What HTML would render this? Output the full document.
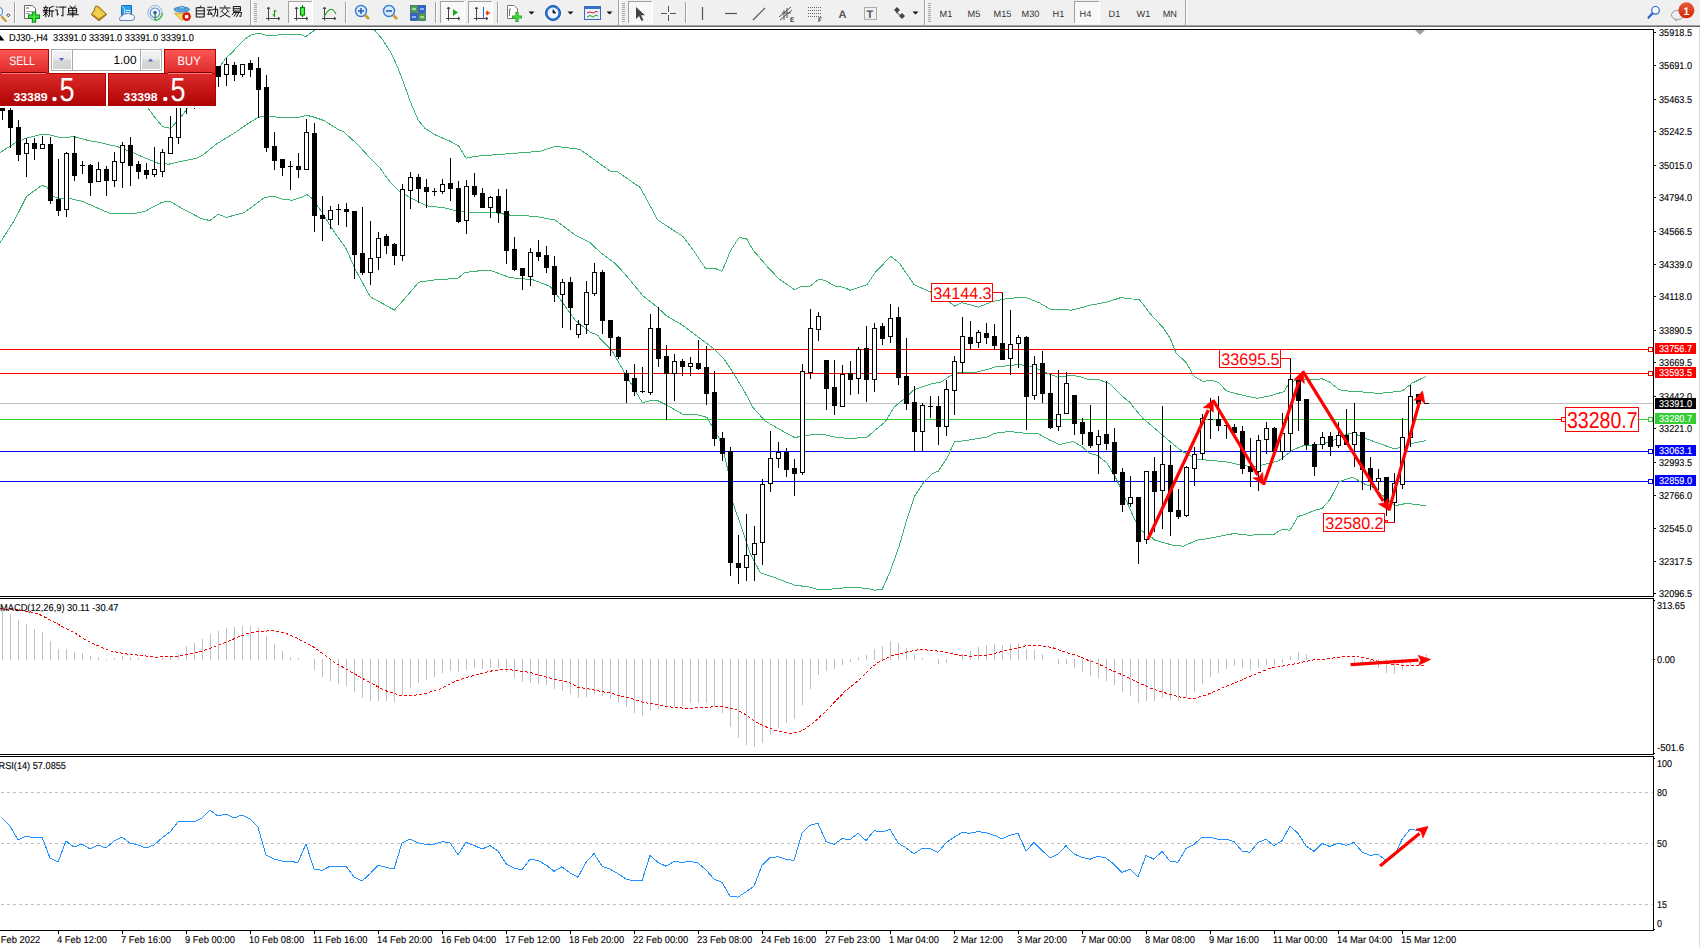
<!DOCTYPE html><html><head><meta charset="utf-8"><title>DJ30 H4</title><style>html,body{margin:0;padding:0;background:#fff;overflow:hidden;width:1700px;height:947px}svg{display:block}text{font-family:'Liberation Sans',sans-serif}</style></head><body>
<svg width="1700" height="947" viewBox="0 0 1700 947" style="font-family:'Liberation Sans',sans-serif" text-rendering="geometricPrecision">
<defs><linearGradient id="gTop" x1="0" y1="0" x2="0" y2="1"><stop offset="0" stop-color="#fb5656"/><stop offset="1" stop-color="#e02a2a"/></linearGradient><linearGradient id="gBot" x1="0" y1="0" x2="0" y2="1"><stop offset="0" stop-color="#dc2a2a"/><stop offset="1" stop-color="#b00404"/></linearGradient><linearGradient id="gBtn" x1="0" y1="0" x2="0" y2="1"><stop offset="0" stop-color="#f2f2f2"/><stop offset="0.45" stop-color="#ececec"/><stop offset="0.5" stop-color="#d9d9d9"/><stop offset="1" stop-color="#d2d2d2"/></linearGradient><linearGradient id="gBadge" x1="0" y1="0" x2="0" y2="1"><stop offset="0" stop-color="#ea5a3a"/><stop offset="1" stop-color="#d42400"/></linearGradient><pattern id="chk" width="2" height="2" patternUnits="userSpaceOnUse"><rect width="2" height="2" fill="#f4f4f4"/><rect width="1" height="1" fill="#fdfdfd"/><rect x="1" y="1" width="1" height="1" fill="#fdfdfd"/></pattern></defs>
<rect x="0" y="0" width="1700" height="25" fill="#f0f0f0"/>
<rect x="0" y="25" width="1700" height="1" fill="#a2a2a2"/>
<rect x="0" y="26" width="1700" height="1" fill="#6a6a6a"/>
<g shape-rendering="crispEdges">
<rect x="14" y="2" width="1" height="21" fill="#a0a0a0"/>
<rect x="15" y="2" width="1" height="21" fill="#ffffff"/>
<rect x="345" y="2" width="1" height="21" fill="#a0a0a0"/>
<rect x="346" y="2" width="1" height="21" fill="#ffffff"/>
<rect x="435" y="2" width="1" height="21" fill="#a0a0a0"/>
<rect x="436" y="2" width="1" height="21" fill="#ffffff"/>
<rect x="497" y="2" width="1" height="21" fill="#a0a0a0"/>
<rect x="498" y="2" width="1" height="21" fill="#ffffff"/>
<rect x="685" y="2" width="1" height="21" fill="#a0a0a0"/>
<rect x="686" y="2" width="1" height="21" fill="#ffffff"/>
<rect x="250" y="0" width="1" height="25" fill="#a0a0a0"/>
<rect x="251" y="0" width="1" height="25" fill="#ffffff"/>
<rect x="618" y="0" width="1" height="25" fill="#a0a0a0"/>
<rect x="619" y="0" width="1" height="25" fill="#ffffff"/>
<rect x="924" y="0" width="1" height="25" fill="#a0a0a0"/>
<rect x="925" y="0" width="1" height="25" fill="#ffffff"/>
<rect x="1185" y="0" width="1" height="25" fill="#a0a0a0"/>
<rect x="1186" y="0" width="1" height="25" fill="#ffffff"/>
<rect x="254" y="3" width="3" height="1" fill="#a8a8a8"/>
<rect x="254" y="5" width="3" height="1" fill="#a8a8a8"/>
<rect x="254" y="7" width="3" height="1" fill="#a8a8a8"/>
<rect x="254" y="9" width="3" height="1" fill="#a8a8a8"/>
<rect x="254" y="11" width="3" height="1" fill="#a8a8a8"/>
<rect x="254" y="13" width="3" height="1" fill="#a8a8a8"/>
<rect x="254" y="15" width="3" height="1" fill="#a8a8a8"/>
<rect x="254" y="17" width="3" height="1" fill="#a8a8a8"/>
<rect x="254" y="19" width="3" height="1" fill="#a8a8a8"/>
<rect x="254" y="21" width="3" height="1" fill="#a8a8a8"/>
<rect x="622" y="3" width="3" height="1" fill="#a8a8a8"/>
<rect x="622" y="5" width="3" height="1" fill="#a8a8a8"/>
<rect x="622" y="7" width="3" height="1" fill="#a8a8a8"/>
<rect x="622" y="9" width="3" height="1" fill="#a8a8a8"/>
<rect x="622" y="11" width="3" height="1" fill="#a8a8a8"/>
<rect x="622" y="13" width="3" height="1" fill="#a8a8a8"/>
<rect x="622" y="15" width="3" height="1" fill="#a8a8a8"/>
<rect x="622" y="17" width="3" height="1" fill="#a8a8a8"/>
<rect x="622" y="19" width="3" height="1" fill="#a8a8a8"/>
<rect x="622" y="21" width="3" height="1" fill="#a8a8a8"/>
<rect x="928" y="3" width="3" height="1" fill="#a8a8a8"/>
<rect x="928" y="5" width="3" height="1" fill="#a8a8a8"/>
<rect x="928" y="7" width="3" height="1" fill="#a8a8a8"/>
<rect x="928" y="9" width="3" height="1" fill="#a8a8a8"/>
<rect x="928" y="11" width="3" height="1" fill="#a8a8a8"/>
<rect x="928" y="13" width="3" height="1" fill="#a8a8a8"/>
<rect x="928" y="15" width="3" height="1" fill="#a8a8a8"/>
<rect x="928" y="17" width="3" height="1" fill="#a8a8a8"/>
<rect x="928" y="19" width="3" height="1" fill="#a8a8a8"/>
<rect x="928" y="21" width="3" height="1" fill="#a8a8a8"/>
<rect x="288" y="1" width="25" height="23" fill="url(#chk)"/>
<rect x="288" y="1" width="24" height="1" fill="#a0a0a0"/>
<rect x="288" y="1" width="1" height="22" fill="#a0a0a0"/>
<rect x="288" y="23" width="25" height="1" fill="#ffffff"/>
<rect x="312" y="1" width="1" height="23" fill="#ffffff"/>
<rect x="440" y="1" width="25" height="23" fill="url(#chk)"/>
<rect x="440" y="1" width="24" height="1" fill="#a0a0a0"/>
<rect x="440" y="1" width="1" height="22" fill="#a0a0a0"/>
<rect x="440" y="23" width="25" height="1" fill="#ffffff"/>
<rect x="464" y="1" width="1" height="23" fill="#ffffff"/>
<rect x="468" y="1" width="25" height="23" fill="url(#chk)"/>
<rect x="468" y="1" width="24" height="1" fill="#a0a0a0"/>
<rect x="468" y="1" width="1" height="22" fill="#a0a0a0"/>
<rect x="468" y="23" width="25" height="1" fill="#ffffff"/>
<rect x="492" y="1" width="1" height="23" fill="#ffffff"/>
<rect x="628" y="1" width="25" height="23" fill="url(#chk)"/>
<rect x="628" y="1" width="24" height="1" fill="#a0a0a0"/>
<rect x="628" y="1" width="1" height="22" fill="#a0a0a0"/>
<rect x="628" y="23" width="25" height="1" fill="#ffffff"/>
<rect x="652" y="1" width="1" height="23" fill="#ffffff"/>
<rect x="1074" y="1" width="26" height="23" fill="url(#chk)"/>
<rect x="1074" y="1" width="25" height="1" fill="#a0a0a0"/>
<rect x="1074" y="1" width="1" height="22" fill="#a0a0a0"/>
<rect x="1074" y="23" width="26" height="1" fill="#ffffff"/>
<rect x="1099" y="1" width="1" height="23" fill="#ffffff"/>
</g>
<circle cx="-2" cy="11.5" r="4.6" fill="#eef6ff" stroke="#6a9ad8" stroke-width="1.3"/>
<path d="M2,17L5.8,21" stroke="#c8a030" stroke-width="2.4" stroke-linecap="round"/>
<path d="M8.3,13.8L9.8,15.3L8.3,16.8L6.8,15.3Z" fill="none" stroke="#222" stroke-width="0.9"/>
<path d="M24.5,5.5H32.5L35.5,8.5V18.5H24.5Z" fill="#fff" stroke="#666"/>
<path d="M26,8H29" stroke="#999" stroke-width="1.6"/><path d="M26,11.5H32M26,13.5H30" stroke="#999" stroke-width="0.9"/>
<path d="M34,11.6V22.7M28,16.7H40" stroke="#108a10" stroke-width="4.4"/>
<path d="M34,12.6V21.7M29,16.7H39" stroke="#3ee63e" stroke-width="2.2"/>
<path transform="translate(43,6) scale(1.08)" d="M2.6,0V1.3M0.6,1.6H4.6M1.5,2.5L1.9,3.6M3.7,2.5L3.3,3.6M0.2,4.1H5M0.6,5.6H4.6M2.6,4.1V10M2.6,6.5L0.4,9M2.6,6.5L4.4,8.4M9.4,0.4L6.1,1.5V6.2Q6.1,8.6,5.3,9.8M6.1,4.6H10M8.3,4.6V10" fill="none" stroke="#000" stroke-width="0.88" stroke-linecap="square"/>
<path transform="translate(55.2,6) scale(1.08)" d="M0.9,0.4L2,1.6M0.3,3.6H1.9V8.6L3,7.6M3.6,1H10M7.2,1V9.4L6,8.9" fill="none" stroke="#000" stroke-width="0.88" stroke-linecap="square"/>
<path transform="translate(67.4,6) scale(1.08)" d="M2.8,0L3.9,1.5M7.2,0L6.1,1.5M1.5,2H8.5V6.6H1.5ZM1.5,4.3H8.5M5,2V10M0,8.1H10" fill="none" stroke="#000" stroke-width="0.88" stroke-linecap="square"/>
<path d="M95.5,6.2Q97.5,5.8,99,7L106.7,14.4L99,20.8L91.2,14.6Q94.5,11,95.5,6.2Z" fill="#e4bc30" stroke="#8a5a10" stroke-width="0.9"/>
<path d="M92.5,14.8L99,19.5L105.8,14.2" fill="none" stroke="#b07818" stroke-width="1.2"/>
<path d="M96,7.5L104.5,14.2L99,18.5L93,14Q95.5,11,96,7.5Z" fill="#f3d860" opacity="0.7"/>
<path d="M121.5,5.5H131.5V15.5H121.5Z" fill="#28a0f0" stroke="#1a70c0"/>
<path d="M121.5,5.5L124.5,8.5V15.5" fill="none" stroke="#a8dcff"/>
<path d="M125.5,10.5H130.5M125.5,12.5H130.5" stroke="#e8f6ff"/>
<path d="M120,20.5Q118.5,17,122,16Q123,13.2,126.5,13.8Q128.5,12,131,14.5Q134.8,14.5,134.5,18Q134.5,20.5,131,20.5Z" fill="#f2f5fb" stroke="#6a80b0"/>
<circle cx="155" cy="12.8" r="7.3" fill="none" stroke="#8ab0e0" stroke-width="1"/>
<circle cx="155" cy="12.8" r="4.8" fill="none" stroke="#5a88d8" stroke-width="1.1"/>
<circle cx="155" cy="12.8" r="1.8" fill="#2050c0"/>
<path d="M155.2,13V20.6" stroke="#20a020" stroke-width="1.3"/>
<path d="M155.5,20.2A7.3,7.3,0,0,0,162.3,13" fill="none" stroke="#58b858" stroke-width="1.6"/>
<path d="M174.5,13.3H189.6L181.8,20.5Z" fill="#f2d860" stroke="#c09820" stroke-width="0.8"/>
<ellipse cx="181.8" cy="9.5" rx="7.8" ry="2.6" fill="#5aa8e0" stroke="#2a70b8" stroke-width="0.8"/>
<path d="M178.3,9Q181.8,3.2,185.3,9Z" fill="#8ac8f4" stroke="#2a70b8" stroke-width="0.6"/>
<circle cx="186.6" cy="16.6" r="4.3" fill="#d81800"/>
<rect x="184.9" y="14.9" width="3.4" height="3.4" fill="#fff"/>
<path transform="translate(195,6) scale(1.1)" d="M5.2,0L4.2,1.6M1.6,1.6H8.4V10H1.6ZM1.6,4.4H8.4M1.6,7.2H8.4" fill="none" stroke="#000" stroke-width="0.86" stroke-linecap="square"/>
<path transform="translate(207.2,6) scale(1.1)" d="M0.6,1.1H4.2M0.1,3.6H4.6M2.2,3.6L0.5,7.7L4.1,7.1M3.1,5.6L4.5,8.2M5.5,3H9.5V9.4L8.4,9M7.6,0.4V4.5Q7.4,7.8,5.4,9.8" fill="none" stroke="#000" stroke-width="0.86" stroke-linecap="square"/>
<path transform="translate(219.4,6) scale(1.1)" d="M5,0V1M0.4,1.8H9.6M3.6,3L1.4,5.1M6.4,3L8.6,5.1M2.6,5.2Q5,8.8,9.4,10M7.4,5.2Q5,8.8,0.6,10" fill="none" stroke="#000" stroke-width="0.86" stroke-linecap="square"/>
<path transform="translate(231.6,6) scale(1.1)" d="M2,0.5H8V4.6H2ZM2,2.5H8M3,4.7L0.5,8M1.8,5.8H9L8.4,9.6L7.3,9.2M4.6,5.8L2.4,9.2M6.6,5.8L4.5,9.8" fill="none" stroke="#000" stroke-width="0.86" stroke-linecap="square"/>
<path d="M268.5,7V20.5M266,18.5H280" stroke="#444" stroke-width="1"/>
<path d="M267,9L268.5,7L270,9M278,17L280,18.5L278,20" fill="none" stroke="#444"/>
<path d="M274.5,10V17M272.5,15H274.5M274.5,11H276.5" stroke="#1a9a1a" stroke-width="1.2"/>
<path d="M296.5,7V20.5M294,18.5H308" stroke="#444" stroke-width="1"/>
<path d="M295,9L296.5,7L298,9M306,17L308,18.5L306,20" fill="none" stroke="#444"/>
<path d="M302.5,5V17" stroke="#008a00" stroke-width="1.2"/>
<rect x="300.5" y="7.5" width="4" height="7.5" fill="#50ee50" stroke="#008a00" stroke-width="1.1"/>
<path d="M324.5,7V20.5M322,18.5H336" stroke="#444" stroke-width="1"/>
<path d="M323,9L324.5,7L326,9M334,17L336,18.5L334,20" fill="none" stroke="#444"/>
<path d="M324,17Q327,11,330,9.5T336,14" fill="none" stroke="#20a020" stroke-width="1.1"/>
<circle cx="361" cy="11" r="5.5" fill="#d8ecff" stroke="#3a7ad0" stroke-width="1.4"/>
<path d="M365,15L369,19" stroke="#c8a030" stroke-width="2.6"/>
<path d="M358,11H364" stroke="#2a60c0" stroke-width="1.6"/>
<path d="M361,8V14" stroke="#2a60c0" stroke-width="1.6"/>
<circle cx="389" cy="11" r="5.5" fill="#d8ecff" stroke="#3a7ad0" stroke-width="1.4"/>
<path d="M393,15L397,19" stroke="#c8a030" stroke-width="2.6"/>
<path d="M386,11H392" stroke="#2a60c0" stroke-width="1.6"/>
<rect x="410.5" y="5.5" width="7" height="7" fill="#4aa83a" stroke="#1a3a80" stroke-width="0.6"/>
<path d="M412,9H416" stroke="#fff"/>
<rect x="418.5" y="5.5" width="7" height="7" fill="#2a66d0" stroke="#1a3a80" stroke-width="0.6"/>
<path d="M420,9H424" stroke="#fff"/>
<rect x="410.5" y="13.5" width="7" height="7" fill="#2a66d0" stroke="#1a3a80" stroke-width="0.6"/>
<path d="M412,17H416" stroke="#fff"/>
<rect x="418.5" y="13.5" width="7" height="7" fill="#4aa83a" stroke="#1a3a80" stroke-width="0.6"/>
<path d="M420,17H424" stroke="#fff"/>
<path d="M448.5,7V20.5M446,18.5H460" stroke="#444" stroke-width="1"/>
<path d="M447,9L448.5,7L450,9M458,17L460,18.5L458,20" fill="none" stroke="#444"/>
<path d="M453,9V16L458,12.5Z" fill="#22aa22"/>
<path d="M476.5,7V20.5M474,18.5H488" stroke="#444" stroke-width="1"/>
<path d="M475,9L476.5,7L478,9M486,17L488,18.5L486,20" fill="none" stroke="#444"/>
<path d="M483.5,7V18" stroke="#2a6ad0"/><path d="M486,13H490M486,13L488,11M486,13L488,15" stroke="#e04010" stroke-width="1.3"/>
<path d="M507.5,5.5H514L517.5,9V18.5H507.5Z" fill="#fff" stroke="#777"/>
<path d="M509.5,9V16M509.5,9H511" stroke="#777"/>
<path d="M517,12V22M512,17H522" stroke="#22aa22" stroke-width="3.2"/>
<path d="M517,13V21M513,17H521" stroke="#44dd44" stroke-width="1.4"/>
<path d="M528.5,11.5H534.5L531.5,14.5Z" fill="#111"/>
<path d="M567.5,11.5H573.5L570.5,14.5Z" fill="#111"/>
<path d="M606.5,11.5H612.5L609.5,14.5Z" fill="#111"/>
<path d="M912.5,11.5H918.5L915.5,14.5Z" fill="#111"/>
<circle cx="553" cy="13" r="7.5" fill="#2a7ad8" stroke="#1a50a0"/>
<circle cx="553" cy="13" r="5.4" fill="#f4f8ff"/>
<path d="M553,9.5V13H556" stroke="#333" stroke-width="1"/>
<rect x="584.5" y="6.5" width="16" height="13" fill="#e8f0fc" stroke="#3a6ac0"/>
<rect x="585" y="7" width="15" height="2" fill="#3a70c8"/>
<path d="M587,13L590,12L593,13L596,11.5L598,12" fill="none" stroke="#d02020"/>
<path d="M587,17L590,15.5L593,17L596,15L598,16" fill="none" stroke="#20a020"/>
<path d="M636,7L636,19L639,16L641.5,21L643.5,20L641,15.3L645,15.3Z" fill="#444"/>
<path d="M668.5,6V12M668.5,15V21M661,13.5H667M670,13.5H676" stroke="#555"/>
<path d="M702.5,7V20" stroke="#555" stroke-width="1.2"/>
<path d="M725,13.5H737" stroke="#555" stroke-width="1.2"/>
<path d="M753,20L765,8" stroke="#555" stroke-width="1.2"/>
<path d="M779,17L791,7M780,20L792,10M782,13H791M784,10V20M787,8V18" stroke="#555" stroke-width="1"/>
<text x="790" y="22" font-size="6.5" fill="#333" font-weight="bold">E</text>
<path d="M808,7.5H821" stroke="#666" stroke-dasharray="1,1"/>
<path d="M808,10.5H821" stroke="#666" stroke-dasharray="1,1"/>
<path d="M808,13.5H821" stroke="#666" stroke-dasharray="1,1"/>
<path d="M808,16.5H821" stroke="#666" stroke-dasharray="1,1"/>
<text x="818" y="22" font-size="6.5" fill="#333" font-weight="bold">F</text>
<text x="838.5" y="17.5" font-size="11" fill="#555" font-weight="bold">A</text>
<rect x="864.5" y="7.5" width="12" height="12" fill="none" stroke="#666" stroke-dasharray="1,1"/>
<text x="866.5" y="17.5" font-size="11" fill="#555" font-weight="bold">T</text>
<path d="M894,10L897,7L900,10L897,13Z" fill="#444"/><path d="M899,16L902,13L905,16L902,19Z" fill="#444"/><path d="M896,12L901,16" stroke="#444"/>
<text x="939.5" y="17" font-size="9.2" fill="#333">M1</text>
<text x="967.5" y="17" font-size="9.2" fill="#333">M5</text>
<text x="993.5" y="17" font-size="9.2" fill="#333">M15</text>
<text x="1021.5" y="17" font-size="9.2" fill="#333">M30</text>
<text x="1052.5" y="17" font-size="9.2" fill="#333">H1</text>
<text x="1079.5" y="17" font-size="9.2" fill="#333">H4</text>
<text x="1108.5" y="17" font-size="9.2" fill="#333">D1</text>
<text x="1136.5" y="17" font-size="9.2" fill="#333">W1</text>
<text x="1162.7" y="17" font-size="9.2" fill="#333">MN</text>
<circle cx="1655.5" cy="10.3" r="3.8" fill="#fff" stroke="#2a62d0" stroke-width="1.2"/>
<path d="M1652.6,13.3L1648.6,17.6" stroke="#2a62d0" stroke-width="2.2" stroke-linecap="round"/>
<ellipse cx="1677.5" cy="15" rx="6" ry="4.6" fill="#eceef4" stroke="#9a9a9a"/>
<path d="M1675,19L1675.5,21.5L1678,19.5Z" fill="#9a9a9a"/>
<circle cx="1686.4" cy="10.3" r="8" fill="url(#gBadge)"/>
<text x='1686.4' y='15' font-size='11' fill='#fff' text-anchor='middle' font-family="'Liberation Serif',serif" font-weight='bold'>1</text>
<g shape-rendering="crispEdges">
<rect x="0" y="29" width="1654" height="1" fill="#000"/>
<rect x="1653" y="29" width="1" height="568" fill="#000"/>
<rect x="0" y="596" width="1654" height="1" fill="#000"/>
<rect x="0" y="598" width="1654" height="1" fill="#000"/>
<rect x="1653" y="598" width="1" height="157" fill="#000"/>
<rect x="0" y="754" width="1654" height="1" fill="#000"/>
<rect x="0" y="756" width="1654" height="1" fill="#000"/>
<rect x="1653" y="756" width="1" height="175" fill="#000"/>
<rect x="0" y="930" width="1654" height="1" fill="#000"/>
<rect x="1699" y="27" width="1" height="920" fill="#dcdcdc"/>
</g>
<svg x="0" y="30" width="1653" height="566" viewBox="0 30 1653 566" overflow="hidden">
<g shape-rendering="crispEdges">
<rect x="0" y="403" width="1653" height="1" fill="#c0c0c0"/>
<rect x="0" y="349" width="1649" height="1" fill="#ff0000"/>
<rect x="0" y="373" width="1649" height="1" fill="#ff0000"/>
<rect x="0" y="419" width="1555" height="1" fill="#32cd32"/>
<rect x="1555" y="419" width="8" height="1" fill="#ff0000"/>
<rect x="1639" y="419" width="10" height="1" fill="#32cd32"/>
<rect x="0" y="451" width="1649" height="1" fill="#0000ff"/>
<rect x="0" y="481" width="1649" height="1" fill="#0000ff"/>
</g>
<polyline points="140,99 148,108.2 154.5,117 162.5,126.6 166,127.4 170.5,128.4 178.5,120 186.5,109.5 192,100 200,90 210,77 216,70 221,64.8 226.2,57.7 231.4,53.2 238.5,45.4 244.3,39.6 251.4,34.8 256.6,33.5 260.5,33.5 265.6,35.3 277.3,35.3 279.9,34.4 300.6,34.4 305.8,36.6 313.5,30.9 318,27 370,27 374.4,29.9 382.1,38.9 391.2,53.2 397.7,67.4 404.1,84.2 410.6,102.4 418.4,120.5 424.8,128.2 435.7,135.2 450.3,141.3 458.8,146.2 466.1,158.3 475,156.3 507.6,153.8 540.2,151.3 555.2,146.3 575.2,148.8 580.2,149.5 610.3,171.3 617.8,172 640.3,187.6 657.8,220.1 682.9,236.4 693.1,250 705.4,268.2 715.3,268.5 722,271.4 730.8,250 739.2,237.6 746.7,238.9 753,250 767,266.3 778.9,278.8 794.4,289.6 801.1,286.7 810,286.2 818.8,279.3 824.7,280.3 835.1,286.2 843.9,287.3 850.1,290.3 867,284.8 875.5,272.1 890.7,256.4 899.1,262.8 914.3,284.8 929.5,291.5 949.8,302.5 954.9,306.2 961.6,302.5 978.5,307.2 992,301.7 1008.9,298.3 1025.8,297.4 1039.3,302.8 1050.3,309.3 1071.4,310.1 1080,308.1 1088.9,305.4 1106.6,302.2 1121.4,297.4 1128.8,298.9 1139.1,299.2 1151,314.7 1162.8,327.3 1170.2,338.4 1176.1,353.2 1186.4,362.8 1193.8,376.1 1202.7,381.3 1213,380.5 1219,382.7 1226.3,390.9 1239.6,394.6 1257.4,398.3 1272.2,395.3 1284,391.6 1289.7,382.1 1301,379.2 1308.7,380.2 1322,378.8 1329.7,382.1 1339,389.7 1352.5,391.6 1366,392.1 1378,393.5 1397,391.6 1402.7,390.7 1412.2,383.1 1426,376.4" fill="none" stroke="#3cb371" stroke-width="1" shape-rendering="crispEdges"/>
<polyline points="0,152.5 15.2,143 26.6,138 41.8,134.2 50,135 59.6,137.4 74.8,136.8 88.7,140.6 100,142.6 117.8,146.7 130.2,151.5 141.2,156.3 157.7,163.1 168.6,164.2 182.4,161.1 196.1,158.3 203,154.9 216.7,143.9 234.5,132.9 248.8,123.1 258.5,117.2 264.4,116.3 278.6,117.2 299.3,117.2 306.4,115.3 312.2,116.6 323.9,120.5 338.1,129.5 343.4,131.6 358,144.9 370.2,158.3 379.9,168 389.6,181.4 399.3,191.1 411.4,198.4 426,205.7 445.5,208.1 460,211.7 480,212.9 495,212.6 510.1,215.1 535.2,216.3 555.2,220.1 575.2,235.1 590.2,242.6 600,252.2 614.8,263.3 620.7,269.2 629.6,279.6 642.9,295.8 656.2,306.2 666.5,315.8 682.8,325.4 694.6,334.3 712.4,347.6 724.2,359.4 733.1,372.7 743.3,389.4 753.1,407.7 765.2,421 779.8,429.5 794.4,437.5 813.8,434.4 823.5,434.4 833.2,436.8 850,438.6 867.1,437.1 874.7,430.5 885.2,421.9 894,407.2 904.2,398.8 914.3,389.5 929.5,384.4 941.4,381.9 951.5,375.1 958.2,372.1 975.1,372.6 988.6,369.2 995.4,367 1017.4,364.7 1022.4,365 1032.6,366.7 1047.8,373.4 1057.9,377.2 1071.4,375.1 1080,376.8 1090,379.9 1099.2,379.8 1109.6,383.5 1122.9,396.8 1130.3,402.7 1134,408 1143.6,419 1145.4,420.4 1158.7,431.8 1172,443.2 1181.5,450.8 1196.7,459.4 1210,460.3 1229,462.2 1240.5,465.1 1254,467 1261.2,465.2 1278.3,461 1293.5,449.6 1303,445.8 1318.2,444.8 1329.7,442 1341,436.3 1352.5,432.8 1364.7,438.2 1378,443 1395.1,449 1402.7,446.7 1412.2,443.3 1426,440.7" fill="none" stroke="#3cb371" stroke-width="1" shape-rendering="crispEdges"/>
<polyline points="0,242.8 15.2,219 26.6,196.3 41.8,185.5 47,187 53.2,196.3 60.8,198.9 68.4,198.2 82.4,201.4 100,209.1 111,213.9 132.9,213.9 145.3,211.2 161.8,202.3 170,201.3 179.6,207.1 201.6,218.7 209.8,220.5 218.1,214.2 226.3,217.4 244.1,212.6 264.7,197.5 273,196.1 282.6,199.1 292.2,200.2 299.7,197.9 307,194.7 311.9,198.4 321.6,211.7 333.7,231.2 345.9,248.2 355.6,270 370.2,296.7 394.4,310.1 404.2,299.2 418.7,282.2 435.7,279.7 457.6,278.5 464.9,272.5 474.6,271.2 490.1,270.2 510.1,277.7 532.7,279.7 550.2,286.4 562.7,302.7 575.2,320.2 590.2,332.2 597.7,335.2 600,338.7 611.8,350.5 623.7,371.2 631.6,384.6 642.5,402.8 651,400.4 658.3,400.9 666.8,405.2 682.6,414.2 698.4,415 706.9,417.4 711.8,425.9 719,438 723.9,452.6 728.8,474.5 733.1,503.6 740.9,525.5 750.6,554.6 760.4,572.9 774.9,577.7 794.4,585 811.4,587.4 818.7,589.9 828.4,589.4 850,587.3 867.1,588.3 874.7,590.2 882.3,589.2 889.9,572.1 899.4,545.5 907,518.9 914.6,496 924.1,481.8 931.7,474.2 938.4,471 947,458 954.6,441.9 966,440.5 986.9,437.1 994.5,433.3 1009.7,431.4 1021.1,432.9 1038.2,433.7 1049.6,440 1059.1,444.7 1066.7,442.8 1073.4,441.5 1081.9,446.6 1089.5,453.3 1097.1,455.2 1106.7,462.8 1114.3,475.1 1120,486.5 1127.6,503.6 1135.2,520.8 1140.9,530.3 1150,536 1154.9,540.2 1172,545 1183.4,546.3 1196.7,540.2 1210,538.3 1234,533.5 1242,534.5 1250,535.3 1258,534.5 1266,535 1274,534.3 1282,529.2 1290,530.3 1298,516.5 1306,514 1314,510.5 1322,508.5 1330,499.5 1339,481.9 1352.5,477.1 1363.9,483.8 1372.3,486.7 1395.1,505.7 1406.5,503.4 1426,505.7" fill="none" stroke="#3cb371" stroke-width="1" shape-rendering="crispEdges"/>
<g shape-rendering="crispEdges">
<rect x="2" y="110" width="1" height="10" fill="#000"/>
<rect x="0" y="108" width="5" height="3" fill="#000"/>
<rect x="10" y="108" width="1" height="3" fill="#000"/>
<rect x="10" y="127" width="1" height="21" fill="#000"/>
<rect x="8" y="110" width="5" height="18" fill="#000"/>
<rect x="18" y="120" width="1" height="8" fill="#000"/>
<rect x="18" y="154" width="1" height="7" fill="#000"/>
<rect x="16" y="127" width="5" height="28" fill="#000"/>
<rect x="26" y="138" width="1" height="6" fill="#000"/>
<rect x="26" y="153" width="1" height="24" fill="#000"/>
<rect x="24" y="143" width="5" height="11" fill="#000"/>
<rect x="25" y="144" width="3" height="9" fill="#fff"/>
<rect x="34" y="138" width="1" height="6" fill="#000"/>
<rect x="34" y="148" width="1" height="12" fill="#000"/>
<rect x="32" y="143" width="5" height="6" fill="#000"/>
<rect x="42" y="136" width="1" height="9" fill="#000"/>
<rect x="40" y="144" width="5" height="5" fill="#000"/>
<rect x="41" y="145" width="3" height="3" fill="#fff"/>
<rect x="50" y="137" width="1" height="8" fill="#000"/>
<rect x="50" y="200" width="1" height="4" fill="#000"/>
<rect x="48" y="144" width="5" height="57" fill="#000"/>
<rect x="58" y="159" width="1" height="41" fill="#000"/>
<rect x="58" y="210" width="1" height="6" fill="#000"/>
<rect x="56" y="199" width="5" height="12" fill="#000"/>
<rect x="66" y="152" width="1" height="2" fill="#000"/>
<rect x="66" y="209" width="1" height="8" fill="#000"/>
<rect x="64" y="153" width="5" height="57" fill="#000"/>
<rect x="65" y="154" width="3" height="55" fill="#fff"/>
<rect x="74" y="136" width="1" height="18" fill="#000"/>
<rect x="74" y="175" width="1" height="6" fill="#000"/>
<rect x="72" y="153" width="5" height="23" fill="#000"/>
<rect x="82" y="161" width="1" height="5" fill="#000"/>
<rect x="82" y="165" width="1" height="9" fill="#000"/>
<rect x="80" y="165" width="5" height="1" fill="#000"/>
<rect x="90" y="164" width="1" height="2" fill="#000"/>
<rect x="90" y="182" width="1" height="14" fill="#000"/>
<rect x="88" y="165" width="5" height="18" fill="#000"/>
<rect x="98" y="162" width="1" height="8" fill="#000"/>
<rect x="96" y="169" width="5" height="13" fill="#000"/>
<rect x="97" y="170" width="3" height="11" fill="#fff"/>
<rect x="106" y="166" width="1" height="4" fill="#000"/>
<rect x="106" y="180" width="1" height="16" fill="#000"/>
<rect x="104" y="169" width="5" height="12" fill="#000"/>
<rect x="114" y="152" width="1" height="10" fill="#000"/>
<rect x="114" y="180" width="1" height="7" fill="#000"/>
<rect x="112" y="161" width="5" height="20" fill="#000"/>
<rect x="113" y="162" width="3" height="18" fill="#fff"/>
<rect x="122" y="142" width="1" height="4" fill="#000"/>
<rect x="122" y="162" width="1" height="26" fill="#000"/>
<rect x="120" y="145" width="5" height="18" fill="#000"/>
<rect x="121" y="146" width="3" height="16" fill="#fff"/>
<rect x="130" y="137" width="1" height="9" fill="#000"/>
<rect x="130" y="165" width="1" height="21" fill="#000"/>
<rect x="128" y="145" width="5" height="21" fill="#000"/>
<rect x="138" y="161" width="1" height="4" fill="#000"/>
<rect x="138" y="171" width="1" height="8" fill="#000"/>
<rect x="136" y="164" width="5" height="8" fill="#000"/>
<rect x="146" y="163" width="1" height="8" fill="#000"/>
<rect x="146" y="174" width="1" height="5" fill="#000"/>
<rect x="144" y="170" width="5" height="5" fill="#000"/>
<rect x="154" y="147" width="1" height="23" fill="#000"/>
<rect x="154" y="174" width="1" height="3" fill="#000"/>
<rect x="152" y="169" width="5" height="6" fill="#000"/>
<rect x="153" y="170" width="3" height="4" fill="#fff"/>
<rect x="162" y="149" width="1" height="4" fill="#000"/>
<rect x="162" y="171" width="1" height="6" fill="#000"/>
<rect x="160" y="152" width="5" height="20" fill="#000"/>
<rect x="161" y="153" width="3" height="18" fill="#fff"/>
<rect x="170" y="116" width="1" height="22" fill="#000"/>
<rect x="168" y="137" width="5" height="17" fill="#000"/>
<rect x="169" y="138" width="3" height="15" fill="#fff"/>
<rect x="178" y="80" width="1" height="11" fill="#000"/>
<rect x="178" y="137" width="1" height="7" fill="#000"/>
<rect x="176" y="90" width="5" height="48" fill="#000"/>
<rect x="177" y="91" width="3" height="46" fill="#fff"/>
<rect x="186" y="60" width="1" height="11" fill="#000"/>
<rect x="186" y="95" width="1" height="19" fill="#000"/>
<rect x="184" y="70" width="5" height="26" fill="#000"/>
<rect x="185" y="71" width="3" height="24" fill="#fff"/>
<rect x="194" y="60" width="1" height="11" fill="#000"/>
<rect x="194" y="90" width="1" height="19" fill="#000"/>
<rect x="192" y="70" width="5" height="21" fill="#000"/>
<rect x="202" y="60" width="1" height="6" fill="#000"/>
<rect x="202" y="80" width="1" height="16" fill="#000"/>
<rect x="200" y="65" width="5" height="16" fill="#000"/>
<rect x="201" y="66" width="3" height="14" fill="#fff"/>
<rect x="210" y="55" width="1" height="6" fill="#000"/>
<rect x="210" y="75" width="1" height="16" fill="#000"/>
<rect x="208" y="60" width="5" height="16" fill="#000"/>
<rect x="209" y="61" width="3" height="14" fill="#fff"/>
<rect x="218" y="76" width="1" height="11" fill="#000"/>
<rect x="216" y="66" width="5" height="11" fill="#000"/>
<rect x="226" y="58" width="1" height="7" fill="#000"/>
<rect x="226" y="74" width="1" height="12" fill="#000"/>
<rect x="224" y="64" width="5" height="11" fill="#000"/>
<rect x="225" y="65" width="3" height="9" fill="#fff"/>
<rect x="234" y="62" width="1" height="4" fill="#000"/>
<rect x="234" y="74" width="1" height="7" fill="#000"/>
<rect x="232" y="65" width="5" height="10" fill="#000"/>
<rect x="242" y="74" width="1" height="3" fill="#000"/>
<rect x="240" y="64" width="5" height="11" fill="#000"/>
<rect x="241" y="65" width="3" height="9" fill="#fff"/>
<rect x="250" y="60" width="1" height="4" fill="#000"/>
<rect x="250" y="69" width="1" height="8" fill="#000"/>
<rect x="248" y="63" width="5" height="7" fill="#000"/>
<rect x="258" y="57" width="1" height="12" fill="#000"/>
<rect x="258" y="89" width="1" height="29" fill="#000"/>
<rect x="256" y="68" width="5" height="22" fill="#000"/>
<rect x="266" y="75" width="1" height="13" fill="#000"/>
<rect x="266" y="147" width="1" height="5" fill="#000"/>
<rect x="264" y="87" width="5" height="61" fill="#000"/>
<rect x="274" y="132" width="1" height="15" fill="#000"/>
<rect x="274" y="160" width="1" height="10" fill="#000"/>
<rect x="272" y="146" width="5" height="15" fill="#000"/>
<rect x="282" y="167" width="1" height="9" fill="#000"/>
<rect x="280" y="159" width="5" height="9" fill="#000"/>
<rect x="290" y="161" width="1" height="6" fill="#000"/>
<rect x="290" y="166" width="1" height="24" fill="#000"/>
<rect x="288" y="166" width="5" height="1" fill="#000"/>
<rect x="298" y="153" width="1" height="14" fill="#000"/>
<rect x="298" y="169" width="1" height="9" fill="#000"/>
<rect x="296" y="166" width="5" height="4" fill="#000"/>
<rect x="306" y="119" width="1" height="14" fill="#000"/>
<rect x="304" y="132" width="5" height="38" fill="#000"/>
<rect x="305" y="133" width="3" height="36" fill="#fff"/>
<rect x="314" y="123" width="1" height="11" fill="#000"/>
<rect x="314" y="215" width="1" height="17" fill="#000"/>
<rect x="312" y="133" width="5" height="83" fill="#000"/>
<rect x="322" y="196" width="1" height="20" fill="#000"/>
<rect x="322" y="218" width="1" height="23" fill="#000"/>
<rect x="320" y="215" width="5" height="4" fill="#000"/>
<rect x="330" y="206" width="1" height="5" fill="#000"/>
<rect x="330" y="219" width="1" height="10" fill="#000"/>
<rect x="328" y="210" width="5" height="10" fill="#000"/>
<rect x="329" y="211" width="3" height="8" fill="#fff"/>
<rect x="338" y="204" width="1" height="6" fill="#000"/>
<rect x="338" y="209" width="1" height="16" fill="#000"/>
<rect x="336" y="209" width="5" height="1" fill="#000"/>
<rect x="346" y="203" width="1" height="7" fill="#000"/>
<rect x="346" y="211" width="1" height="16" fill="#000"/>
<rect x="344" y="209" width="5" height="3" fill="#000"/>
<rect x="354" y="254" width="1" height="25" fill="#000"/>
<rect x="352" y="211" width="5" height="44" fill="#000"/>
<rect x="362" y="207" width="1" height="47" fill="#000"/>
<rect x="362" y="272" width="1" height="3" fill="#000"/>
<rect x="360" y="253" width="5" height="20" fill="#000"/>
<rect x="370" y="221" width="1" height="38" fill="#000"/>
<rect x="370" y="272" width="1" height="13" fill="#000"/>
<rect x="368" y="258" width="5" height="15" fill="#000"/>
<rect x="369" y="259" width="3" height="13" fill="#fff"/>
<rect x="378" y="232" width="1" height="7" fill="#000"/>
<rect x="378" y="257" width="1" height="13" fill="#000"/>
<rect x="376" y="238" width="5" height="20" fill="#000"/>
<rect x="377" y="239" width="3" height="18" fill="#fff"/>
<rect x="386" y="234" width="1" height="3" fill="#000"/>
<rect x="386" y="245" width="1" height="9" fill="#000"/>
<rect x="384" y="236" width="5" height="10" fill="#000"/>
<rect x="394" y="243" width="1" height="2" fill="#000"/>
<rect x="394" y="255" width="1" height="10" fill="#000"/>
<rect x="392" y="244" width="5" height="12" fill="#000"/>
<rect x="402" y="184" width="1" height="6" fill="#000"/>
<rect x="402" y="255" width="1" height="6" fill="#000"/>
<rect x="400" y="189" width="5" height="67" fill="#000"/>
<rect x="401" y="190" width="3" height="65" fill="#fff"/>
<rect x="410" y="172" width="1" height="6" fill="#000"/>
<rect x="410" y="190" width="1" height="19" fill="#000"/>
<rect x="408" y="177" width="5" height="14" fill="#000"/>
<rect x="409" y="178" width="3" height="12" fill="#fff"/>
<rect x="418" y="174" width="1" height="4" fill="#000"/>
<rect x="418" y="188" width="1" height="15" fill="#000"/>
<rect x="416" y="177" width="5" height="12" fill="#000"/>
<rect x="426" y="179" width="1" height="9" fill="#000"/>
<rect x="426" y="191" width="1" height="17" fill="#000"/>
<rect x="424" y="187" width="5" height="5" fill="#000"/>
<rect x="434" y="188" width="1" height="4" fill="#000"/>
<rect x="434" y="191" width="1" height="5" fill="#000"/>
<rect x="432" y="191" width="5" height="1" fill="#000"/>
<rect x="442" y="179" width="1" height="6" fill="#000"/>
<rect x="442" y="191" width="1" height="3" fill="#000"/>
<rect x="440" y="184" width="5" height="8" fill="#000"/>
<rect x="441" y="185" width="3" height="6" fill="#fff"/>
<rect x="450" y="158" width="1" height="26" fill="#000"/>
<rect x="450" y="188" width="1" height="13" fill="#000"/>
<rect x="448" y="183" width="5" height="6" fill="#000"/>
<rect x="458" y="181" width="1" height="8" fill="#000"/>
<rect x="458" y="221" width="1" height="2" fill="#000"/>
<rect x="456" y="188" width="5" height="34" fill="#000"/>
<rect x="466" y="180" width="1" height="7" fill="#000"/>
<rect x="466" y="220" width="1" height="14" fill="#000"/>
<rect x="464" y="186" width="5" height="35" fill="#000"/>
<rect x="465" y="187" width="3" height="33" fill="#fff"/>
<rect x="474" y="173" width="1" height="14" fill="#000"/>
<rect x="474" y="194" width="1" height="3" fill="#000"/>
<rect x="472" y="186" width="5" height="9" fill="#000"/>
<rect x="482" y="188" width="1" height="6" fill="#000"/>
<rect x="480" y="193" width="5" height="15" fill="#000"/>
<rect x="490" y="196" width="1" height="2" fill="#000"/>
<rect x="490" y="207" width="1" height="11" fill="#000"/>
<rect x="488" y="197" width="5" height="11" fill="#000"/>
<rect x="489" y="198" width="3" height="9" fill="#fff"/>
<rect x="498" y="189" width="1" height="8" fill="#000"/>
<rect x="498" y="212" width="1" height="11" fill="#000"/>
<rect x="496" y="196" width="5" height="17" fill="#000"/>
<rect x="506" y="189" width="1" height="23" fill="#000"/>
<rect x="506" y="250" width="1" height="14" fill="#000"/>
<rect x="504" y="211" width="5" height="40" fill="#000"/>
<rect x="514" y="237" width="1" height="13" fill="#000"/>
<rect x="514" y="269" width="1" height="2" fill="#000"/>
<rect x="512" y="249" width="5" height="21" fill="#000"/>
<rect x="522" y="275" width="1" height="15" fill="#000"/>
<rect x="520" y="268" width="5" height="8" fill="#000"/>
<rect x="530" y="248" width="1" height="5" fill="#000"/>
<rect x="530" y="276" width="1" height="10" fill="#000"/>
<rect x="528" y="252" width="5" height="25" fill="#000"/>
<rect x="529" y="253" width="3" height="23" fill="#fff"/>
<rect x="538" y="240" width="1" height="13" fill="#000"/>
<rect x="538" y="256" width="1" height="5" fill="#000"/>
<rect x="536" y="252" width="5" height="5" fill="#000"/>
<rect x="546" y="246" width="1" height="10" fill="#000"/>
<rect x="546" y="267" width="1" height="6" fill="#000"/>
<rect x="544" y="255" width="5" height="13" fill="#000"/>
<rect x="554" y="256" width="1" height="11" fill="#000"/>
<rect x="554" y="294" width="1" height="8" fill="#000"/>
<rect x="552" y="266" width="5" height="29" fill="#000"/>
<rect x="562" y="279" width="1" height="4" fill="#000"/>
<rect x="562" y="294" width="1" height="34" fill="#000"/>
<rect x="560" y="282" width="5" height="13" fill="#000"/>
<rect x="561" y="283" width="3" height="11" fill="#fff"/>
<rect x="570" y="277" width="1" height="6" fill="#000"/>
<rect x="570" y="307" width="1" height="23" fill="#000"/>
<rect x="568" y="282" width="5" height="26" fill="#000"/>
<rect x="578" y="320" width="1" height="5" fill="#000"/>
<rect x="578" y="334" width="1" height="4" fill="#000"/>
<rect x="576" y="324" width="5" height="11" fill="#000"/>
<rect x="577" y="325" width="3" height="9" fill="#fff"/>
<rect x="586" y="281" width="1" height="12" fill="#000"/>
<rect x="586" y="324" width="1" height="10" fill="#000"/>
<rect x="584" y="292" width="5" height="33" fill="#000"/>
<rect x="585" y="293" width="3" height="31" fill="#fff"/>
<rect x="594" y="263" width="1" height="10" fill="#000"/>
<rect x="594" y="293" width="1" height="3" fill="#000"/>
<rect x="592" y="272" width="5" height="22" fill="#000"/>
<rect x="593" y="273" width="3" height="20" fill="#fff"/>
<rect x="602" y="270" width="1" height="3" fill="#000"/>
<rect x="602" y="320" width="1" height="14" fill="#000"/>
<rect x="600" y="272" width="5" height="49" fill="#000"/>
<rect x="610" y="337" width="1" height="19" fill="#000"/>
<rect x="608" y="320" width="5" height="18" fill="#000"/>
<rect x="618" y="336" width="1" height="2" fill="#000"/>
<rect x="618" y="356" width="1" height="3" fill="#000"/>
<rect x="616" y="337" width="5" height="20" fill="#000"/>
<rect x="626" y="370" width="1" height="4" fill="#000"/>
<rect x="626" y="380" width="1" height="23" fill="#000"/>
<rect x="624" y="373" width="5" height="8" fill="#000"/>
<rect x="634" y="364" width="1" height="15" fill="#000"/>
<rect x="634" y="391" width="1" height="5" fill="#000"/>
<rect x="632" y="378" width="5" height="14" fill="#000"/>
<rect x="642" y="367" width="1" height="25" fill="#000"/>
<rect x="642" y="391" width="1" height="2" fill="#000"/>
<rect x="640" y="391" width="5" height="1" fill="#000"/>
<rect x="650" y="314" width="1" height="15" fill="#000"/>
<rect x="650" y="392" width="1" height="3" fill="#000"/>
<rect x="648" y="328" width="5" height="65" fill="#000"/>
<rect x="649" y="329" width="3" height="63" fill="#fff"/>
<rect x="658" y="307" width="1" height="22" fill="#000"/>
<rect x="658" y="358" width="1" height="9" fill="#000"/>
<rect x="656" y="328" width="5" height="31" fill="#000"/>
<rect x="666" y="345" width="1" height="12" fill="#000"/>
<rect x="666" y="373" width="1" height="47" fill="#000"/>
<rect x="664" y="356" width="5" height="18" fill="#000"/>
<rect x="674" y="354" width="1" height="8" fill="#000"/>
<rect x="674" y="373" width="1" height="28" fill="#000"/>
<rect x="672" y="361" width="5" height="13" fill="#000"/>
<rect x="673" y="362" width="3" height="11" fill="#fff"/>
<rect x="682" y="359" width="1" height="3" fill="#000"/>
<rect x="682" y="366" width="1" height="10" fill="#000"/>
<rect x="680" y="361" width="5" height="6" fill="#000"/>
<rect x="690" y="357" width="1" height="7" fill="#000"/>
<rect x="690" y="366" width="1" height="10" fill="#000"/>
<rect x="688" y="363" width="5" height="4" fill="#000"/>
<rect x="689" y="364" width="3" height="2" fill="#fff"/>
<rect x="698" y="340" width="1" height="24" fill="#000"/>
<rect x="698" y="368" width="1" height="2" fill="#000"/>
<rect x="696" y="363" width="5" height="6" fill="#000"/>
<rect x="706" y="346" width="1" height="22" fill="#000"/>
<rect x="706" y="393" width="1" height="12" fill="#000"/>
<rect x="704" y="367" width="5" height="27" fill="#000"/>
<rect x="714" y="371" width="1" height="22" fill="#000"/>
<rect x="714" y="438" width="1" height="8" fill="#000"/>
<rect x="712" y="392" width="5" height="47" fill="#000"/>
<rect x="722" y="432" width="1" height="7" fill="#000"/>
<rect x="722" y="453" width="1" height="8" fill="#000"/>
<rect x="720" y="438" width="5" height="16" fill="#000"/>
<rect x="730" y="447" width="1" height="5" fill="#000"/>
<rect x="730" y="562" width="1" height="14" fill="#000"/>
<rect x="728" y="451" width="5" height="112" fill="#000"/>
<rect x="738" y="535" width="1" height="29" fill="#000"/>
<rect x="738" y="567" width="1" height="17" fill="#000"/>
<rect x="736" y="563" width="5" height="5" fill="#000"/>
<rect x="746" y="514" width="1" height="42" fill="#000"/>
<rect x="746" y="567" width="1" height="14" fill="#000"/>
<rect x="744" y="555" width="5" height="13" fill="#000"/>
<rect x="745" y="556" width="3" height="11" fill="#fff"/>
<rect x="754" y="526" width="1" height="18" fill="#000"/>
<rect x="754" y="554" width="1" height="27" fill="#000"/>
<rect x="752" y="543" width="5" height="12" fill="#000"/>
<rect x="753" y="544" width="3" height="10" fill="#fff"/>
<rect x="762" y="479" width="1" height="6" fill="#000"/>
<rect x="762" y="542" width="1" height="23" fill="#000"/>
<rect x="760" y="484" width="5" height="59" fill="#000"/>
<rect x="761" y="485" width="3" height="57" fill="#fff"/>
<rect x="770" y="431" width="1" height="28" fill="#000"/>
<rect x="770" y="483" width="1" height="9" fill="#000"/>
<rect x="768" y="458" width="5" height="26" fill="#000"/>
<rect x="769" y="459" width="3" height="24" fill="#fff"/>
<rect x="778" y="442" width="1" height="11" fill="#000"/>
<rect x="778" y="458" width="1" height="10" fill="#000"/>
<rect x="776" y="452" width="5" height="7" fill="#000"/>
<rect x="777" y="453" width="3" height="5" fill="#fff"/>
<rect x="786" y="448" width="1" height="5" fill="#000"/>
<rect x="786" y="469" width="1" height="8" fill="#000"/>
<rect x="784" y="452" width="5" height="18" fill="#000"/>
<rect x="794" y="459" width="1" height="10" fill="#000"/>
<rect x="794" y="473" width="1" height="23" fill="#000"/>
<rect x="792" y="468" width="5" height="6" fill="#000"/>
<rect x="802" y="364" width="1" height="8" fill="#000"/>
<rect x="802" y="472" width="1" height="3" fill="#000"/>
<rect x="800" y="371" width="5" height="102" fill="#000"/>
<rect x="801" y="372" width="3" height="100" fill="#fff"/>
<rect x="810" y="309" width="1" height="20" fill="#000"/>
<rect x="810" y="372" width="1" height="7" fill="#000"/>
<rect x="808" y="328" width="5" height="45" fill="#000"/>
<rect x="809" y="329" width="3" height="43" fill="#fff"/>
<rect x="818" y="312" width="1" height="5" fill="#000"/>
<rect x="818" y="329" width="1" height="12" fill="#000"/>
<rect x="816" y="316" width="5" height="14" fill="#000"/>
<rect x="817" y="317" width="3" height="12" fill="#fff"/>
<rect x="826" y="388" width="1" height="22" fill="#000"/>
<rect x="824" y="360" width="5" height="29" fill="#000"/>
<rect x="834" y="360" width="1" height="28" fill="#000"/>
<rect x="834" y="405" width="1" height="10" fill="#000"/>
<rect x="832" y="387" width="5" height="19" fill="#000"/>
<rect x="842" y="365" width="1" height="10" fill="#000"/>
<rect x="840" y="374" width="5" height="33" fill="#000"/>
<rect x="841" y="375" width="3" height="31" fill="#fff"/>
<rect x="850" y="361" width="1" height="13" fill="#000"/>
<rect x="850" y="379" width="1" height="16" fill="#000"/>
<rect x="848" y="373" width="5" height="7" fill="#000"/>
<rect x="858" y="347" width="1" height="3" fill="#000"/>
<rect x="858" y="378" width="1" height="16" fill="#000"/>
<rect x="856" y="349" width="5" height="30" fill="#000"/>
<rect x="857" y="350" width="3" height="28" fill="#fff"/>
<rect x="866" y="326" width="1" height="23" fill="#000"/>
<rect x="866" y="379" width="1" height="23" fill="#000"/>
<rect x="864" y="348" width="5" height="32" fill="#000"/>
<rect x="874" y="323" width="1" height="6" fill="#000"/>
<rect x="874" y="379" width="1" height="13" fill="#000"/>
<rect x="872" y="328" width="5" height="52" fill="#000"/>
<rect x="873" y="329" width="3" height="50" fill="#fff"/>
<rect x="882" y="323" width="1" height="4" fill="#000"/>
<rect x="882" y="338" width="1" height="7" fill="#000"/>
<rect x="880" y="326" width="5" height="13" fill="#000"/>
<rect x="890" y="304" width="1" height="15" fill="#000"/>
<rect x="890" y="336" width="1" height="7" fill="#000"/>
<rect x="888" y="318" width="5" height="19" fill="#000"/>
<rect x="889" y="319" width="3" height="17" fill="#fff"/>
<rect x="898" y="307" width="1" height="11" fill="#000"/>
<rect x="898" y="377" width="1" height="8" fill="#000"/>
<rect x="896" y="317" width="5" height="61" fill="#000"/>
<rect x="906" y="338" width="1" height="39" fill="#000"/>
<rect x="906" y="403" width="1" height="7" fill="#000"/>
<rect x="904" y="376" width="5" height="28" fill="#000"/>
<rect x="914" y="386" width="1" height="17" fill="#000"/>
<rect x="914" y="431" width="1" height="21" fill="#000"/>
<rect x="912" y="402" width="5" height="30" fill="#000"/>
<rect x="922" y="403" width="1" height="3" fill="#000"/>
<rect x="922" y="431" width="1" height="20" fill="#000"/>
<rect x="920" y="405" width="5" height="27" fill="#000"/>
<rect x="921" y="406" width="3" height="25" fill="#fff"/>
<rect x="930" y="396" width="1" height="11" fill="#000"/>
<rect x="930" y="406" width="1" height="12" fill="#000"/>
<rect x="928" y="406" width="5" height="1" fill="#000"/>
<rect x="938" y="396" width="1" height="11" fill="#000"/>
<rect x="938" y="426" width="1" height="19" fill="#000"/>
<rect x="936" y="406" width="5" height="21" fill="#000"/>
<rect x="946" y="380" width="1" height="10" fill="#000"/>
<rect x="946" y="426" width="1" height="10" fill="#000"/>
<rect x="944" y="389" width="5" height="38" fill="#000"/>
<rect x="945" y="390" width="3" height="36" fill="#fff"/>
<rect x="954" y="356" width="1" height="6" fill="#000"/>
<rect x="954" y="390" width="1" height="25" fill="#000"/>
<rect x="952" y="361" width="5" height="30" fill="#000"/>
<rect x="953" y="362" width="3" height="28" fill="#fff"/>
<rect x="962" y="317" width="1" height="20" fill="#000"/>
<rect x="962" y="362" width="1" height="11" fill="#000"/>
<rect x="960" y="336" width="5" height="27" fill="#000"/>
<rect x="961" y="337" width="3" height="25" fill="#fff"/>
<rect x="970" y="321" width="1" height="17" fill="#000"/>
<rect x="970" y="343" width="1" height="7" fill="#000"/>
<rect x="968" y="337" width="5" height="7" fill="#000"/>
<rect x="978" y="330" width="1" height="3" fill="#000"/>
<rect x="978" y="342" width="1" height="6" fill="#000"/>
<rect x="976" y="332" width="5" height="11" fill="#000"/>
<rect x="977" y="333" width="3" height="9" fill="#fff"/>
<rect x="986" y="323" width="1" height="11" fill="#000"/>
<rect x="986" y="337" width="1" height="7" fill="#000"/>
<rect x="984" y="333" width="5" height="5" fill="#000"/>
<rect x="994" y="324" width="1" height="13" fill="#000"/>
<rect x="994" y="345" width="1" height="5" fill="#000"/>
<rect x="992" y="336" width="5" height="10" fill="#000"/>
<rect x="1002" y="292" width="1" height="52" fill="#000"/>
<rect x="1000" y="343" width="5" height="17" fill="#000"/>
<rect x="1010" y="310" width="1" height="35" fill="#000"/>
<rect x="1010" y="358" width="1" height="17" fill="#000"/>
<rect x="1008" y="344" width="5" height="15" fill="#000"/>
<rect x="1009" y="345" width="3" height="13" fill="#fff"/>
<rect x="1018" y="335" width="1" height="3" fill="#000"/>
<rect x="1018" y="343" width="1" height="25" fill="#000"/>
<rect x="1016" y="337" width="5" height="7" fill="#000"/>
<rect x="1017" y="338" width="3" height="5" fill="#fff"/>
<rect x="1026" y="336" width="1" height="2" fill="#000"/>
<rect x="1026" y="396" width="1" height="34" fill="#000"/>
<rect x="1024" y="337" width="5" height="60" fill="#000"/>
<rect x="1034" y="356" width="1" height="9" fill="#000"/>
<rect x="1034" y="395" width="1" height="5" fill="#000"/>
<rect x="1032" y="364" width="5" height="32" fill="#000"/>
<rect x="1033" y="365" width="3" height="30" fill="#fff"/>
<rect x="1042" y="351" width="1" height="13" fill="#000"/>
<rect x="1042" y="393" width="1" height="10" fill="#000"/>
<rect x="1040" y="363" width="5" height="31" fill="#000"/>
<rect x="1050" y="374" width="1" height="20" fill="#000"/>
<rect x="1050" y="427" width="1" height="2" fill="#000"/>
<rect x="1048" y="393" width="5" height="35" fill="#000"/>
<rect x="1058" y="370" width="1" height="45" fill="#000"/>
<rect x="1058" y="426" width="1" height="5" fill="#000"/>
<rect x="1056" y="414" width="5" height="13" fill="#000"/>
<rect x="1057" y="415" width="3" height="11" fill="#fff"/>
<rect x="1066" y="372" width="1" height="12" fill="#000"/>
<rect x="1064" y="383" width="5" height="31" fill="#000"/>
<rect x="1065" y="384" width="3" height="29" fill="#fff"/>
<rect x="1074" y="423" width="1" height="12" fill="#000"/>
<rect x="1072" y="395" width="5" height="29" fill="#000"/>
<rect x="1082" y="418" width="1" height="5" fill="#000"/>
<rect x="1082" y="433" width="1" height="12" fill="#000"/>
<rect x="1080" y="422" width="5" height="12" fill="#000"/>
<rect x="1090" y="405" width="1" height="28" fill="#000"/>
<rect x="1090" y="445" width="1" height="3" fill="#000"/>
<rect x="1088" y="432" width="5" height="14" fill="#000"/>
<rect x="1098" y="430" width="1" height="7" fill="#000"/>
<rect x="1098" y="444" width="1" height="30" fill="#000"/>
<rect x="1096" y="436" width="5" height="9" fill="#000"/>
<rect x="1097" y="437" width="3" height="7" fill="#fff"/>
<rect x="1106" y="381" width="1" height="54" fill="#000"/>
<rect x="1106" y="443" width="1" height="7" fill="#000"/>
<rect x="1104" y="434" width="5" height="10" fill="#000"/>
<rect x="1114" y="428" width="1" height="15" fill="#000"/>
<rect x="1114" y="473" width="1" height="9" fill="#000"/>
<rect x="1112" y="442" width="5" height="32" fill="#000"/>
<rect x="1122" y="468" width="1" height="5" fill="#000"/>
<rect x="1122" y="504" width="1" height="8" fill="#000"/>
<rect x="1120" y="472" width="5" height="33" fill="#000"/>
<rect x="1130" y="476" width="1" height="22" fill="#000"/>
<rect x="1130" y="503" width="1" height="4" fill="#000"/>
<rect x="1128" y="497" width="5" height="7" fill="#000"/>
<rect x="1129" y="498" width="3" height="5" fill="#fff"/>
<rect x="1138" y="541" width="1" height="23" fill="#000"/>
<rect x="1136" y="497" width="5" height="45" fill="#000"/>
<rect x="1146" y="539" width="1" height="5" fill="#000"/>
<rect x="1144" y="471" width="5" height="69" fill="#000"/>
<rect x="1145" y="472" width="3" height="67" fill="#fff"/>
<rect x="1154" y="457" width="1" height="15" fill="#000"/>
<rect x="1154" y="491" width="1" height="41" fill="#000"/>
<rect x="1152" y="471" width="5" height="21" fill="#000"/>
<rect x="1162" y="406" width="1" height="59" fill="#000"/>
<rect x="1162" y="490" width="1" height="39" fill="#000"/>
<rect x="1160" y="464" width="5" height="27" fill="#000"/>
<rect x="1161" y="465" width="3" height="25" fill="#fff"/>
<rect x="1170" y="445" width="1" height="21" fill="#000"/>
<rect x="1170" y="511" width="1" height="25" fill="#000"/>
<rect x="1168" y="465" width="5" height="47" fill="#000"/>
<rect x="1178" y="489" width="1" height="22" fill="#000"/>
<rect x="1178" y="516" width="1" height="3" fill="#000"/>
<rect x="1176" y="510" width="5" height="7" fill="#000"/>
<rect x="1186" y="466" width="1" height="2" fill="#000"/>
<rect x="1186" y="515" width="1" height="2" fill="#000"/>
<rect x="1184" y="467" width="5" height="49" fill="#000"/>
<rect x="1185" y="468" width="3" height="47" fill="#fff"/>
<rect x="1194" y="447" width="1" height="8" fill="#000"/>
<rect x="1194" y="468" width="1" height="18" fill="#000"/>
<rect x="1192" y="454" width="5" height="15" fill="#000"/>
<rect x="1193" y="455" width="3" height="13" fill="#fff"/>
<rect x="1202" y="414" width="1" height="5" fill="#000"/>
<rect x="1202" y="453" width="1" height="7" fill="#000"/>
<rect x="1200" y="418" width="5" height="36" fill="#000"/>
<rect x="1201" y="419" width="3" height="34" fill="#fff"/>
<rect x="1210" y="398" width="1" height="22" fill="#000"/>
<rect x="1210" y="419" width="1" height="20" fill="#000"/>
<rect x="1208" y="419" width="5" height="1" fill="#000"/>
<rect x="1218" y="396" width="1" height="24" fill="#000"/>
<rect x="1218" y="425" width="1" height="6" fill="#000"/>
<rect x="1216" y="419" width="5" height="7" fill="#000"/>
<rect x="1226" y="425" width="1" height="14" fill="#000"/>
<rect x="1224" y="425" width="5" height="1" fill="#000"/>
<rect x="1234" y="424" width="1" height="4" fill="#000"/>
<rect x="1232" y="427" width="5" height="6" fill="#000"/>
<rect x="1242" y="426" width="1" height="6" fill="#000"/>
<rect x="1242" y="468" width="1" height="6" fill="#000"/>
<rect x="1240" y="431" width="5" height="38" fill="#000"/>
<rect x="1250" y="438" width="1" height="29" fill="#000"/>
<rect x="1250" y="471" width="1" height="16" fill="#000"/>
<rect x="1248" y="466" width="5" height="6" fill="#000"/>
<rect x="1258" y="435" width="1" height="6" fill="#000"/>
<rect x="1258" y="471" width="1" height="20" fill="#000"/>
<rect x="1256" y="440" width="5" height="32" fill="#000"/>
<rect x="1257" y="441" width="3" height="30" fill="#fff"/>
<rect x="1266" y="422" width="1" height="7" fill="#000"/>
<rect x="1266" y="439" width="1" height="15" fill="#000"/>
<rect x="1264" y="428" width="5" height="12" fill="#000"/>
<rect x="1265" y="429" width="3" height="10" fill="#fff"/>
<rect x="1274" y="427" width="1" height="2" fill="#000"/>
<rect x="1272" y="428" width="5" height="24" fill="#000"/>
<rect x="1282" y="413" width="1" height="21" fill="#000"/>
<rect x="1282" y="451" width="1" height="9" fill="#000"/>
<rect x="1280" y="433" width="5" height="19" fill="#000"/>
<rect x="1281" y="434" width="3" height="17" fill="#fff"/>
<rect x="1290" y="358" width="1" height="22" fill="#000"/>
<rect x="1290" y="433" width="1" height="19" fill="#000"/>
<rect x="1288" y="379" width="5" height="55" fill="#000"/>
<rect x="1289" y="380" width="3" height="53" fill="#fff"/>
<rect x="1298" y="400" width="1" height="31" fill="#000"/>
<rect x="1296" y="380" width="5" height="21" fill="#000"/>
<rect x="1306" y="444" width="1" height="6" fill="#000"/>
<rect x="1304" y="399" width="5" height="46" fill="#000"/>
<rect x="1314" y="442" width="1" height="3" fill="#000"/>
<rect x="1314" y="466" width="1" height="10" fill="#000"/>
<rect x="1312" y="444" width="5" height="23" fill="#000"/>
<rect x="1322" y="432" width="1" height="6" fill="#000"/>
<rect x="1322" y="444" width="1" height="5" fill="#000"/>
<rect x="1320" y="437" width="5" height="8" fill="#000"/>
<rect x="1321" y="438" width="3" height="6" fill="#fff"/>
<rect x="1330" y="432" width="1" height="5" fill="#000"/>
<rect x="1330" y="446" width="1" height="10" fill="#000"/>
<rect x="1328" y="436" width="5" height="11" fill="#000"/>
<rect x="1338" y="422" width="1" height="14" fill="#000"/>
<rect x="1338" y="445" width="1" height="3" fill="#000"/>
<rect x="1336" y="435" width="5" height="11" fill="#000"/>
<rect x="1337" y="436" width="3" height="9" fill="#fff"/>
<rect x="1346" y="409" width="1" height="27" fill="#000"/>
<rect x="1344" y="435" width="5" height="10" fill="#000"/>
<rect x="1354" y="403" width="1" height="30" fill="#000"/>
<rect x="1354" y="444" width="1" height="23" fill="#000"/>
<rect x="1352" y="432" width="5" height="13" fill="#000"/>
<rect x="1353" y="433" width="3" height="11" fill="#fff"/>
<rect x="1362" y="469" width="1" height="21" fill="#000"/>
<rect x="1360" y="432" width="5" height="38" fill="#000"/>
<rect x="1370" y="457" width="1" height="12" fill="#000"/>
<rect x="1370" y="481" width="1" height="9" fill="#000"/>
<rect x="1368" y="468" width="5" height="14" fill="#000"/>
<rect x="1378" y="469" width="1" height="10" fill="#000"/>
<rect x="1378" y="481" width="1" height="9" fill="#000"/>
<rect x="1376" y="478" width="5" height="4" fill="#000"/>
<rect x="1377" y="479" width="3" height="2" fill="#fff"/>
<rect x="1386" y="502" width="1" height="14" fill="#000"/>
<rect x="1384" y="477" width="5" height="26" fill="#000"/>
<rect x="1394" y="473" width="1" height="11" fill="#000"/>
<rect x="1394" y="502" width="1" height="21" fill="#000"/>
<rect x="1392" y="483" width="5" height="20" fill="#000"/>
<rect x="1393" y="484" width="3" height="18" fill="#fff"/>
<rect x="1402" y="418" width="1" height="20" fill="#000"/>
<rect x="1402" y="484" width="1" height="5" fill="#000"/>
<rect x="1400" y="437" width="5" height="48" fill="#000"/>
<rect x="1401" y="438" width="3" height="46" fill="#fff"/>
<rect x="1410" y="385" width="1" height="12" fill="#000"/>
<rect x="1410" y="437" width="1" height="10" fill="#000"/>
<rect x="1408" y="396" width="5" height="42" fill="#000"/>
<rect x="1409" y="397" width="3" height="40" fill="#fff"/>
<rect x="1416" y="394" width="5" height="10" fill="#000"/>
<rect x="1424" y="403" width="5" height="1" fill="#000"/>
</g>
<g shape-rendering="crispEdges" fill="#fff" stroke-width="1">
<rect x="1648.5" y="347.5" width="4" height="4" stroke="#ff0000"/>
<rect x="1648.5" y="371.5" width="4" height="4" stroke="#ff0000"/>
<rect x="1648.5" y="417.5" width="4" height="4" stroke="#32cd32"/>
<rect x="1648.5" y="449.5" width="4" height="4" stroke="#0000ff"/>
<rect x="1648.5" y="479.5" width="4" height="4" stroke="#0000ff"/>
<rect x="1561.5" y="417.5" width="4" height="4" stroke="#ff0000"/>
</g>
<rect x="1565.5" y="407.5" width="73" height="24" fill="#fff" stroke="#ff0000"/>
<text x="1567" y="428.3" font-size="23" fill="#ff0000" textLength="70.5" lengthAdjust="spacingAndGlyphs">33280.7</text>
<rect x="931.5" y="283.5" width="61" height="18" fill="#fff" stroke="#ff0000"/>
<text x="933.3" y="299.3" font-size="16.8" fill="#ff0000" textLength="58.3" lengthAdjust="spacingAndGlyphs">34144.3</text>
<path d="M993,292.5H1002.5V292.5" fill="none" stroke="#ff0000" shape-rendering="crispEdges"/>
<rect x="1219.5" y="349.5" width="61" height="18" fill="#fff" stroke="#ff0000"/>
<text x="1221.3" y="365.3" font-size="16.8" fill="#ff0000" textLength="58.3" lengthAdjust="spacingAndGlyphs">33695.5</text>
<path d="M1281,358.5H1290.5V358.5" fill="none" stroke="#ff0000" shape-rendering="crispEdges"/>
<rect x="1323.5" y="513.5" width="61" height="18" fill="#fff" stroke="#ff0000"/>
<text x="1325.3" y="529.3" font-size="16.8" fill="#ff0000" textLength="58.3" lengthAdjust="spacingAndGlyphs">32580.2</text>
<path d="M1385,522.5H1394.5V522.5" fill="none" stroke="#ff0000" shape-rendering="crispEdges"/>
<rect x="1385.5" y="520.5" width="2" height="2" fill="#fff" stroke="#ff0000" shape-rendering="crispEdges"/>
<path d="M1148,539L1208.34,409.96" stroke="#ff0000" stroke-width="3.2"/>
<path d="M1213,400L1213.32,412.29L1209.27,407.97L1203.36,407.63Z" fill="#ff0000" stroke="#ff0000" stroke-width="0.8" stroke-linejoin="round"/>
<path d="M1213,400L1257.87,475.25" stroke="#ff0000" stroke-width="3.2"/>
<path d="M1263.5,484.7L1253.14,478.07L1258.99,477.14L1262.59,472.44Z" fill="#ff0000" stroke="#ff0000" stroke-width="0.8" stroke-linejoin="round"/>
<path d="M1263.5,484.7L1299.11,381.6" stroke="#ff0000" stroke-width="3.2"/>
<path d="M1302.7,371.2L1304.31,383.39L1299.83,379.52L1293.91,379.8Z" fill="#ff0000" stroke="#ff0000" stroke-width="0.8" stroke-linejoin="round"/>
<path d="M1302.7,371.2L1383.2,501.05" stroke="#ff0000" stroke-width="3.2"/>
<path d="M1389,510.4L1378.53,503.95L1384.36,502.92L1387.88,498.15Z" fill="#ff0000" stroke="#ff0000" stroke-width="0.8" stroke-linejoin="round"/>
<path d="M1389,510.4L1419.53,401.69" stroke="#ff0000" stroke-width="3.2"/>
<path d="M1422.5,391.1L1424.82,403.18L1420.12,399.57L1414.23,400.2Z" fill="#ff0000" stroke="#ff0000" stroke-width="0.8" stroke-linejoin="round"/>
<path d="M1415,30H1425L1420,35Z" fill="#a0a0a0"/>
</svg>
<path d="M0,35L4.5,40.5H0Z" fill="#000"/>
<text x="9" y="41" font-size="10" fill="#000" textLength="185" lengthAdjust="spacingAndGlyphs" stroke="#000" stroke-width="0.12">DJ30-,H4&#160;&#160;33391.0 33391.0 33391.0 33391.0</text>
<rect x="0" y="47" width="216" height="61" fill="#fff"/>
<path d="M0,49H49V73H106V106H0Z" fill="#b00000"/>
<rect x="0" y="50" width="48" height="23" fill="url(#gTop)"/>
<rect x="0" y="74" width="105" height="31" fill="url(#gBot)"/>
<rect x="1" y="72" width="45" height="1" fill="#7a0000"/>
<rect x="1" y="73" width="45" height="1" fill="#ff7a7a"/>
<path d="M164,49H216V106H108V73H164Z" fill="#b00000"/>
<rect x="165" y="50" width="50" height="23" fill="url(#gTop)"/>
<rect x="109" y="74" width="106" height="31" fill="url(#gBot)"/>
<rect x="168" y="72" width="44" height="1" fill="#7a0000"/>
<rect x="168" y="73" width="44" height="1" fill="#ff7a7a"/>
<rect x="51.5" y="49.5" width="110" height="21" fill="#fff" stroke="#a8abb2"/>
<rect x="53" y="51" width="18" height="18" fill="url(#gBtn)"/>
<rect x="142" y="51" width="18" height="18" fill="url(#gBtn)"/>
<rect x="72" y="50" width="1" height="21" fill="#a8abb2"/>
<rect x="140" y="50" width="1" height="21" fill="#a8abb2"/>
<path d="M59,58H64L61.5,61Z" fill="#4a66c8"/>
<path d="M148,61.5H153L150.5,58.5Z" fill="#4a66c8"/>
<text x="113.5" y="64" font-size="12" fill="#000" textLength="23" lengthAdjust="spacingAndGlyphs">1.00</text>
<text x="9.2" y="65.3" font-size="12.3" fill="#fff" textLength="25.8" lengthAdjust="spacingAndGlyphs">SELL</text>
<text x="177.6" y="65.3" font-size="12.3" fill="#fff" textLength="23" lengthAdjust="spacingAndGlyphs">BUY</text>
<text x="13.4" y="101" font-size="11.5" fill="#fff" font-weight="bold" textLength="34.3" lengthAdjust="spacingAndGlyphs">33389</text>
<rect x="52.5" y="97" width="4" height="4" rx="1.2" fill="#fff"/>
<text x="59.5" y="101" font-size="33.5" fill="#fff" textLength="15" lengthAdjust="spacingAndGlyphs">5</text>
<text x="123.6" y="101" font-size="11.5" fill="#fff" font-weight="bold" textLength="34" lengthAdjust="spacingAndGlyphs">33398</text>
<rect x="163.3" y="97" width="4" height="4" rx="1.2" fill="#fff"/>
<text x="170.4" y="101" font-size="33.5" fill="#fff" textLength="15" lengthAdjust="spacingAndGlyphs">5</text>
<g shape-rendering="crispEdges">
<rect x="1654" y="32" width="2" height="1" fill="#000"/>
<rect x="1654" y="65" width="2" height="1" fill="#000"/>
<rect x="1654" y="99" width="2" height="1" fill="#000"/>
<rect x="1654" y="131" width="2" height="1" fill="#000"/>
<rect x="1654" y="165" width="2" height="1" fill="#000"/>
<rect x="1654" y="197" width="2" height="1" fill="#000"/>
<rect x="1654" y="231" width="2" height="1" fill="#000"/>
<rect x="1654" y="264" width="2" height="1" fill="#000"/>
<rect x="1654" y="296" width="2" height="1" fill="#000"/>
<rect x="1654" y="330" width="2" height="1" fill="#000"/>
<rect x="1654" y="362" width="2" height="1" fill="#000"/>
<rect x="1654" y="396" width="2" height="1" fill="#000"/>
<rect x="1654" y="428" width="2" height="1" fill="#000"/>
<rect x="1654" y="462" width="2" height="1" fill="#000"/>
<rect x="1654" y="495" width="2" height="1" fill="#000"/>
<rect x="1654" y="528" width="2" height="1" fill="#000"/>
<rect x="1654" y="561" width="2" height="1" fill="#000"/>
<rect x="1654" y="593" width="2" height="1" fill="#000"/>
</g>
<text x="1659" y="36" font-size="10" fill="#000" textLength="33" lengthAdjust="spacingAndGlyphs" stroke="#000" stroke-width="0.12">35918.5</text>
<text x="1659" y="69" font-size="10" fill="#000" textLength="33" lengthAdjust="spacingAndGlyphs" stroke="#000" stroke-width="0.12">35691.0</text>
<text x="1659" y="103" font-size="10" fill="#000" textLength="33" lengthAdjust="spacingAndGlyphs" stroke="#000" stroke-width="0.12">35463.5</text>
<text x="1659" y="135" font-size="10" fill="#000" textLength="33" lengthAdjust="spacingAndGlyphs" stroke="#000" stroke-width="0.12">35242.5</text>
<text x="1659" y="169" font-size="10" fill="#000" textLength="33" lengthAdjust="spacingAndGlyphs" stroke="#000" stroke-width="0.12">35015.0</text>
<text x="1659" y="201" font-size="10" fill="#000" textLength="33" lengthAdjust="spacingAndGlyphs" stroke="#000" stroke-width="0.12">34794.0</text>
<text x="1659" y="235" font-size="10" fill="#000" textLength="33" lengthAdjust="spacingAndGlyphs" stroke="#000" stroke-width="0.12">34566.5</text>
<text x="1659" y="268" font-size="10" fill="#000" textLength="33" lengthAdjust="spacingAndGlyphs" stroke="#000" stroke-width="0.12">34339.0</text>
<text x="1659" y="300" font-size="10" fill="#000" textLength="33" lengthAdjust="spacingAndGlyphs" stroke="#000" stroke-width="0.12">34118.0</text>
<text x="1659" y="334" font-size="10" fill="#000" textLength="33" lengthAdjust="spacingAndGlyphs" stroke="#000" stroke-width="0.12">33890.5</text>
<text x="1659" y="366" font-size="10" fill="#000" textLength="33" lengthAdjust="spacingAndGlyphs" stroke="#000" stroke-width="0.12">33669.5</text>
<text x="1659" y="400" font-size="10" fill="#000" textLength="33" lengthAdjust="spacingAndGlyphs" stroke="#000" stroke-width="0.12">33442.0</text>
<text x="1659" y="432" font-size="10" fill="#000" textLength="33" lengthAdjust="spacingAndGlyphs" stroke="#000" stroke-width="0.12">33221.0</text>
<text x="1659" y="466" font-size="10" fill="#000" textLength="33" lengthAdjust="spacingAndGlyphs" stroke="#000" stroke-width="0.12">32993.5</text>
<text x="1659" y="499" font-size="10" fill="#000" textLength="33" lengthAdjust="spacingAndGlyphs" stroke="#000" stroke-width="0.12">32766.0</text>
<text x="1659" y="532" font-size="10" fill="#000" textLength="33" lengthAdjust="spacingAndGlyphs" stroke="#000" stroke-width="0.12">32545.0</text>
<text x="1659" y="565" font-size="10" fill="#000" textLength="33" lengthAdjust="spacingAndGlyphs" stroke="#000" stroke-width="0.12">32317.5</text>
<text x="1659" y="597" font-size="10" fill="#000" textLength="33" lengthAdjust="spacingAndGlyphs" stroke="#000" stroke-width="0.12">32096.5</text>
<rect x="1655" y="343" width="41" height="11" fill="#ff0000"/>
<text x="1659" y="352" font-size="10" fill="#fff" textLength="33" lengthAdjust="spacingAndGlyphs" stroke="#fff" stroke-width="0.12">33756.7</text>
<rect x="1655" y="367" width="41" height="11" fill="#ff0000"/>
<text x="1659" y="376" font-size="10" fill="#fff" textLength="33" lengthAdjust="spacingAndGlyphs" stroke="#fff" stroke-width="0.12">33593.5</text>
<rect x="1655" y="398" width="41" height="11" fill="#000"/>
<text x="1659" y="407" font-size="10" fill="#fff" textLength="33" lengthAdjust="spacingAndGlyphs" stroke="#fff" stroke-width="0.12">33391.0</text>
<rect x="1655" y="413" width="41" height="11" fill="#32cd32"/>
<text x="1659" y="422" font-size="10" fill="#fff" textLength="33" lengthAdjust="spacingAndGlyphs" stroke="#fff" stroke-width="0.12">33280.7</text>
<rect x="1655" y="445" width="41" height="11" fill="#0000ff"/>
<text x="1659" y="454" font-size="10" fill="#fff" textLength="33" lengthAdjust="spacingAndGlyphs" stroke="#fff" stroke-width="0.12">33063.1</text>
<rect x="1655" y="475" width="41" height="11" fill="#0000ff"/>
<text x="1659" y="484" font-size="10" fill="#fff" textLength="33" lengthAdjust="spacingAndGlyphs" stroke="#fff" stroke-width="0.12">32859.0</text>
<g shape-rendering="crispEdges">
<rect x="2" y="607" width="1" height="53" fill="#c0c0c0"/>
<rect x="10" y="614" width="1" height="46" fill="#c0c0c0"/>
<rect x="18" y="620" width="1" height="40" fill="#c0c0c0"/>
<rect x="26" y="624" width="1" height="36" fill="#c0c0c0"/>
<rect x="34" y="629" width="1" height="31" fill="#c0c0c0"/>
<rect x="42" y="632" width="1" height="28" fill="#c0c0c0"/>
<rect x="50" y="641" width="1" height="19" fill="#c0c0c0"/>
<rect x="58" y="649" width="1" height="11" fill="#c0c0c0"/>
<rect x="66" y="649" width="1" height="11" fill="#c0c0c0"/>
<rect x="74" y="652" width="1" height="8" fill="#c0c0c0"/>
<rect x="82" y="653" width="1" height="7" fill="#c0c0c0"/>
<rect x="90" y="656" width="1" height="4" fill="#c0c0c0"/>
<rect x="98" y="657" width="1" height="3" fill="#c0c0c0"/>
<rect x="106" y="659" width="1" height="1" fill="#c0c0c0"/>
<rect x="114" y="658" width="1" height="2" fill="#c0c0c0"/>
<rect x="122" y="656" width="1" height="4" fill="#c0c0c0"/>
<rect x="130" y="657" width="1" height="3" fill="#c0c0c0"/>
<rect x="138" y="658" width="1" height="2" fill="#c0c0c0"/>
<rect x="146" y="659" width="1" height="1" fill="#c0c0c0"/>
<rect x="162" y="658" width="1" height="2" fill="#c0c0c0"/>
<rect x="170" y="657" width="1" height="3" fill="#c0c0c0"/>
<rect x="178" y="655" width="1" height="5" fill="#c0c0c0"/>
<rect x="186" y="646" width="1" height="14" fill="#c0c0c0"/>
<rect x="194" y="643" width="1" height="17" fill="#c0c0c0"/>
<rect x="202" y="639" width="1" height="21" fill="#c0c0c0"/>
<rect x="210" y="634" width="1" height="26" fill="#c0c0c0"/>
<rect x="218" y="631" width="1" height="29" fill="#c0c0c0"/>
<rect x="226" y="628" width="1" height="32" fill="#c0c0c0"/>
<rect x="234" y="627" width="1" height="33" fill="#c0c0c0"/>
<rect x="242" y="626" width="1" height="34" fill="#c0c0c0"/>
<rect x="250" y="626" width="1" height="34" fill="#c0c0c0"/>
<rect x="258" y="628" width="1" height="32" fill="#c0c0c0"/>
<rect x="266" y="636" width="1" height="24" fill="#c0c0c0"/>
<rect x="274" y="644" width="1" height="16" fill="#c0c0c0"/>
<rect x="282" y="651" width="1" height="9" fill="#c0c0c0"/>
<rect x="290" y="657" width="1" height="3" fill="#c0c0c0"/>
<rect x="298" y="658" width="1" height="2" fill="#c0c0c0"/>
<rect x="314" y="659" width="1" height="11" fill="#c0c0c0"/>
<rect x="322" y="659" width="1" height="18" fill="#c0c0c0"/>
<rect x="330" y="659" width="1" height="22" fill="#c0c0c0"/>
<rect x="338" y="659" width="1" height="25" fill="#c0c0c0"/>
<rect x="346" y="659" width="1" height="27" fill="#c0c0c0"/>
<rect x="354" y="659" width="1" height="33" fill="#c0c0c0"/>
<rect x="362" y="659" width="1" height="39" fill="#c0c0c0"/>
<rect x="370" y="659" width="1" height="42" fill="#c0c0c0"/>
<rect x="378" y="659" width="1" height="42" fill="#c0c0c0"/>
<rect x="386" y="659" width="1" height="42" fill="#c0c0c0"/>
<rect x="394" y="659" width="1" height="43" fill="#c0c0c0"/>
<rect x="402" y="659" width="1" height="36" fill="#c0c0c0"/>
<rect x="410" y="659" width="1" height="29" fill="#c0c0c0"/>
<rect x="418" y="659" width="1" height="24" fill="#c0c0c0"/>
<rect x="426" y="659" width="1" height="21" fill="#c0c0c0"/>
<rect x="434" y="659" width="1" height="18" fill="#c0c0c0"/>
<rect x="442" y="659" width="1" height="14" fill="#c0c0c0"/>
<rect x="450" y="659" width="1" height="12" fill="#c0c0c0"/>
<rect x="458" y="659" width="1" height="13" fill="#c0c0c0"/>
<rect x="466" y="659" width="1" height="11" fill="#c0c0c0"/>
<rect x="474" y="659" width="1" height="9" fill="#c0c0c0"/>
<rect x="482" y="659" width="1" height="10" fill="#c0c0c0"/>
<rect x="490" y="659" width="1" height="9" fill="#c0c0c0"/>
<rect x="498" y="659" width="1" height="9" fill="#c0c0c0"/>
<rect x="506" y="659" width="1" height="13" fill="#c0c0c0"/>
<rect x="514" y="659" width="1" height="19" fill="#c0c0c0"/>
<rect x="522" y="659" width="1" height="23" fill="#c0c0c0"/>
<rect x="530" y="659" width="1" height="24" fill="#c0c0c0"/>
<rect x="538" y="659" width="1" height="25" fill="#c0c0c0"/>
<rect x="546" y="659" width="1" height="26" fill="#c0c0c0"/>
<rect x="554" y="659" width="1" height="30" fill="#c0c0c0"/>
<rect x="562" y="659" width="1" height="32" fill="#c0c0c0"/>
<rect x="570" y="659" width="1" height="35" fill="#c0c0c0"/>
<rect x="578" y="659" width="1" height="39" fill="#c0c0c0"/>
<rect x="586" y="659" width="1" height="38" fill="#c0c0c0"/>
<rect x="594" y="659" width="1" height="35" fill="#c0c0c0"/>
<rect x="602" y="659" width="1" height="37" fill="#c0c0c0"/>
<rect x="610" y="659" width="1" height="40" fill="#c0c0c0"/>
<rect x="618" y="659" width="1" height="44" fill="#c0c0c0"/>
<rect x="626" y="659" width="1" height="48" fill="#c0c0c0"/>
<rect x="634" y="659" width="1" height="54" fill="#c0c0c0"/>
<rect x="642" y="659" width="1" height="57" fill="#c0c0c0"/>
<rect x="650" y="659" width="1" height="52" fill="#c0c0c0"/>
<rect x="658" y="659" width="1" height="50" fill="#c0c0c0"/>
<rect x="666" y="659" width="1" height="48" fill="#c0c0c0"/>
<rect x="674" y="659" width="1" height="48" fill="#c0c0c0"/>
<rect x="682" y="659" width="1" height="47" fill="#c0c0c0"/>
<rect x="690" y="659" width="1" height="44" fill="#c0c0c0"/>
<rect x="698" y="659" width="1" height="44" fill="#c0c0c0"/>
<rect x="706" y="659" width="1" height="44" fill="#c0c0c0"/>
<rect x="714" y="659" width="1" height="48" fill="#c0c0c0"/>
<rect x="722" y="659" width="1" height="54" fill="#c0c0c0"/>
<rect x="730" y="659" width="1" height="68" fill="#c0c0c0"/>
<rect x="738" y="659" width="1" height="79" fill="#c0c0c0"/>
<rect x="746" y="659" width="1" height="86" fill="#c0c0c0"/>
<rect x="754" y="659" width="1" height="88" fill="#c0c0c0"/>
<rect x="762" y="659" width="1" height="84" fill="#c0c0c0"/>
<rect x="770" y="659" width="1" height="76" fill="#c0c0c0"/>
<rect x="778" y="659" width="1" height="69" fill="#c0c0c0"/>
<rect x="786" y="659" width="1" height="64" fill="#c0c0c0"/>
<rect x="794" y="659" width="1" height="60" fill="#c0c0c0"/>
<rect x="802" y="659" width="1" height="46" fill="#c0c0c0"/>
<rect x="810" y="659" width="1" height="30" fill="#c0c0c0"/>
<rect x="818" y="659" width="1" height="16" fill="#c0c0c0"/>
<rect x="826" y="659" width="1" height="12" fill="#c0c0c0"/>
<rect x="834" y="659" width="1" height="10" fill="#c0c0c0"/>
<rect x="842" y="659" width="1" height="6" fill="#c0c0c0"/>
<rect x="850" y="659" width="1" height="3" fill="#c0c0c0"/>
<rect x="858" y="657" width="1" height="3" fill="#c0c0c0"/>
<rect x="866" y="655" width="1" height="5" fill="#c0c0c0"/>
<rect x="874" y="649" width="1" height="11" fill="#c0c0c0"/>
<rect x="882" y="646" width="1" height="14" fill="#c0c0c0"/>
<rect x="890" y="641" width="1" height="19" fill="#c0c0c0"/>
<rect x="898" y="643" width="1" height="17" fill="#c0c0c0"/>
<rect x="906" y="648" width="1" height="12" fill="#c0c0c0"/>
<rect x="914" y="655" width="1" height="5" fill="#c0c0c0"/>
<rect x="922" y="658" width="1" height="2" fill="#c0c0c0"/>
<rect x="938" y="659" width="1" height="5" fill="#c0c0c0"/>
<rect x="946" y="659" width="1" height="4" fill="#c0c0c0"/>
<rect x="962" y="654" width="1" height="6" fill="#c0c0c0"/>
<rect x="970" y="651" width="1" height="9" fill="#c0c0c0"/>
<rect x="978" y="647" width="1" height="13" fill="#c0c0c0"/>
<rect x="986" y="645" width="1" height="15" fill="#c0c0c0"/>
<rect x="994" y="644" width="1" height="16" fill="#c0c0c0"/>
<rect x="1002" y="645" width="1" height="15" fill="#c0c0c0"/>
<rect x="1010" y="644" width="1" height="16" fill="#c0c0c0"/>
<rect x="1018" y="643" width="1" height="17" fill="#c0c0c0"/>
<rect x="1026" y="649" width="1" height="11" fill="#c0c0c0"/>
<rect x="1034" y="650" width="1" height="10" fill="#c0c0c0"/>
<rect x="1042" y="654" width="1" height="6" fill="#c0c0c0"/>
<rect x="1058" y="659" width="1" height="5" fill="#c0c0c0"/>
<rect x="1066" y="659" width="1" height="5" fill="#c0c0c0"/>
<rect x="1074" y="659" width="1" height="9" fill="#c0c0c0"/>
<rect x="1082" y="659" width="1" height="13" fill="#c0c0c0"/>
<rect x="1090" y="659" width="1" height="17" fill="#c0c0c0"/>
<rect x="1098" y="659" width="1" height="19" fill="#c0c0c0"/>
<rect x="1106" y="659" width="1" height="22" fill="#c0c0c0"/>
<rect x="1114" y="659" width="1" height="26" fill="#c0c0c0"/>
<rect x="1122" y="659" width="1" height="33" fill="#c0c0c0"/>
<rect x="1130" y="659" width="1" height="37" fill="#c0c0c0"/>
<rect x="1138" y="659" width="1" height="44" fill="#c0c0c0"/>
<rect x="1146" y="659" width="1" height="42" fill="#c0c0c0"/>
<rect x="1154" y="659" width="1" height="42" fill="#c0c0c0"/>
<rect x="1162" y="659" width="1" height="39" fill="#c0c0c0"/>
<rect x="1170" y="659" width="1" height="41" fill="#c0c0c0"/>
<rect x="1178" y="659" width="1" height="42" fill="#c0c0c0"/>
<rect x="1186" y="659" width="1" height="38" fill="#c0c0c0"/>
<rect x="1194" y="659" width="1" height="33" fill="#c0c0c0"/>
<rect x="1202" y="659" width="1" height="25" fill="#c0c0c0"/>
<rect x="1210" y="659" width="1" height="18" fill="#c0c0c0"/>
<rect x="1218" y="659" width="1" height="14" fill="#c0c0c0"/>
<rect x="1226" y="659" width="1" height="10" fill="#c0c0c0"/>
<rect x="1234" y="659" width="1" height="7" fill="#c0c0c0"/>
<rect x="1242" y="659" width="1" height="9" fill="#c0c0c0"/>
<rect x="1250" y="659" width="1" height="11" fill="#c0c0c0"/>
<rect x="1258" y="659" width="1" height="9" fill="#c0c0c0"/>
<rect x="1266" y="659" width="1" height="6" fill="#c0c0c0"/>
<rect x="1274" y="659" width="1" height="6" fill="#c0c0c0"/>
<rect x="1282" y="659" width="1" height="4" fill="#c0c0c0"/>
<rect x="1290" y="656" width="1" height="4" fill="#c0c0c0"/>
<rect x="1298" y="652" width="1" height="8" fill="#c0c0c0"/>
<rect x="1306" y="654" width="1" height="6" fill="#c0c0c0"/>
<rect x="1314" y="658" width="1" height="2" fill="#c0c0c0"/>
<rect x="1354" y="659" width="1" height="3" fill="#c0c0c0"/>
<rect x="1362" y="659" width="1" height="4" fill="#c0c0c0"/>
<rect x="1370" y="659" width="1" height="4" fill="#c0c0c0"/>
<rect x="1378" y="659" width="1" height="9" fill="#c0c0c0"/>
<rect x="1386" y="659" width="1" height="14" fill="#c0c0c0"/>
<rect x="1394" y="659" width="1" height="15" fill="#c0c0c0"/>
<rect x="1402" y="659" width="1" height="11" fill="#c0c0c0"/>
<rect x="1410" y="659" width="1" height="6" fill="#c0c0c0"/>
<rect x="1426" y="654" width="1" height="6" fill="#c0c0c0"/>
</g>
<polyline points="0,608.6 17.6,610 31.8,612.1 38.8,614.2 49.4,619.5 61.8,626.2 74.1,632.4 84.7,639.5 97,645.3 109.4,650.6 123.5,653.6 141.2,655.4 155.3,657.1 176.5,656.2 187,654.5 199.4,651.8 211.8,647.8 224.1,643 236.5,637.7 250.6,632.4 261.2,631.2 273.5,630.8 285.9,633.3 298.2,638.6 300.6,640.4 312.9,646.5 325.3,655.4 335.9,663.3 348.2,670.3 360.6,677.4 372.9,684.1 385.3,690.6 399.4,695.1 413.5,695.4 425.9,693.3 440,688.9 455.9,680.9 470,676.5 480.6,673.5 492.9,670.7 505.3,669.5 515.9,670.3 530,672.5 540.6,675.6 554.7,679.2 568.8,682.3 577.6,687.1 588.8,688.9 601.2,691.5 610,692.9 618.8,695.4 632.9,698.9 643.5,702.5 657.6,704.8 673.5,707.4 685.9,708.3 707,707.4 715.9,706.5 728.2,707.4 737,710 745.9,714.8 754.7,721.5 765.3,726.5 775.9,730.7 791.8,733.5 802.3,730.7 812.9,723.3 827,710 844.7,691.5 858.8,680.1 869.4,669.5 877,663.3 884.1,659.4 891.2,655.9 905.3,652.4 919.4,649.5 930,650.2 944.1,651.8 954.7,654.5 968.8,656.2 986.5,655.3 1000.6,651.8 1011.2,649.2 1025.3,646 1035.9,645.3 1051.8,647.4 1064.1,651.8 1076.5,655.3 1087,659.8 1097.6,663.6 1110,669.5 1124.1,675.6 1138.2,682.7 1152.3,688.9 1160,691.2 1170.6,694.7 1182.9,697.7 1193.5,698.6 1205.9,695.1 1218.2,689.8 1230.6,684.5 1242.9,679.5 1255.3,674.2 1269.4,668.6 1283.5,665.9 1297.6,663.3 1311.8,660.1 1325.9,658.9 1336.5,657.6 1350.6,656.2 1364.7,657.6 1373.5,660.1 1382.3,662.4 1394.7,664.7 1407,665.4 1426,665.1" fill="none" stroke="#ff0000" stroke-width="1" stroke-dasharray="3,2" shape-rendering="crispEdges"/>
<text x="0" y="611" font-size="10" fill="#000" textLength="118.5" lengthAdjust="spacingAndGlyphs" stroke="#000" stroke-width="0.12">MACD(12,26,9) 30.11 -30.47</text>
<path d="M1350.6,664.7L1418.53,660.19" stroke="#ff0000" stroke-width="3.2"/>
<path d="M1430.5,659.4L1418.84,664.98L1420.92,660.04L1418.21,655.4Z" fill="#ff0000" stroke="#ff0000" stroke-width="0.8" stroke-linejoin="round"/>
<g shape-rendering="crispEdges">
<rect x="1654" y="600" width="1" height="1" fill="#000"/>
<rect x="1654" y="659" width="1" height="1" fill="#000"/>
<rect x="1654" y="753" width="1" height="1" fill="#000"/>
</g>
<text x="1657" y="609" font-size="10" fill="#000" textLength="28" lengthAdjust="spacingAndGlyphs" stroke="#000" stroke-width="0.12">313.65</text>
<text x="1657" y="663" font-size="10" fill="#000" textLength="18" lengthAdjust="spacingAndGlyphs" stroke="#000" stroke-width="0.12">0.00</text>
<text x="1657" y="751" font-size="10" fill="#000" textLength="27" lengthAdjust="spacingAndGlyphs" stroke="#000" stroke-width="0.12">-501.6</text>
<path d="M0,792.5H1652" stroke="#c0c0c0" stroke-dasharray="3,3" stroke-dashoffset="-1" shape-rendering="crispEdges"/>
<path d="M0,843.5H1652" stroke="#c0c0c0" stroke-dasharray="3,3" stroke-dashoffset="-1" shape-rendering="crispEdges"/>
<path d="M0,904.5H1652" stroke="#c0c0c0" stroke-dasharray="3,3" stroke-dashoffset="-1" shape-rendering="crispEdges"/>
<polyline points="2,818 10,826 18,840 26,836 34,838 42,837 50,858 58,862 66,841 74,847 82,844 90,849 98,845 106,848 114,841 122,837 130,843 138,845 146,848 154,845 162,838 170,832 178,822 186,821 194,822 202,818 210,810 218,816 226,814 234,818 242,815 250,819 258,827 266,855 274,859 282,861 290,861.5 298,862.4 306,844 314,869.1 322,870.4 330,866.2 338,866.2 346,866.2 354,877 362,881 370,873.8 378,865.3 386,867.2 394,869.1 402,842.8 410,839.2 418,842.8 426,844.4 434,844.4 442,841.5 450,842.8 458,854.8 466,842.5 474,845.3 482,849.1 490,845.7 498,851 506,863.7 514,868.1 522,870 530,859.2 538,860.5 546,864.9 554,871.3 562,866.8 570,872.9 578,877.2 586,862.4 594,853.5 602,866.2 610,869.1 618,873.8 626,879 634,880.9 642,881 650,855.4 658,862.4 666,866.2 674,861.5 682,862.4 690,861.5 698,863 706,870 714,879 722,882.4 730,896.1 738,897.2 746,891.9 754,886.2 762,865.3 770,857.7 778,856.7 786,859.2 794,860.5 802,833.3 810,825.3 818,823.4 826,841.5 834,844.4 842,838.7 850,839.6 858,833.3 866,840.6 874,830.7 882,832 890,829.5 898,843 906,847.8 914,853.9 922,848.5 930,848.5 938,852.3 946,842.8 954,837.3 962,832.6 970,833.3 978,831.6 986,832.6 994,835.2 1002,839 1010,835.2 1018,833.3 1026,851 1034,842.5 1042,850.4 1050,858 1058,853.9 1066,845.7 1074,853.9 1082,857.3 1090,859.2 1098,856.3 1106,858 1114,864.3 1122,872.5 1130,869.1 1138,877.2 1146,855.4 1154,859.2 1162,851.4 1170,861.1 1178,862.4 1186,848.5 1194,844.4 1202,837.3 1210,837.3 1218,839.2 1226,839.2 1234,841.5 1242,851 1250,852.3 1258,842.5 1266,839.2 1274,845.9 1282,840.6 1290,826.3 1298,833.3 1306,845.9 1314,851.4 1322,843.4 1330,846.6 1338,843 1346,845.3 1354,842.5 1362,852 1370,855.4 1378,854.2 1386,860.5 1394,856 1402,839.6 1410,829.1 1418,830.7 1426,831" fill="none" stroke="#1e90ff" stroke-width="1" shape-rendering="crispEdges"/>
<text x="-1.5" y="769" font-size="10" fill="#000" textLength="67.5" lengthAdjust="spacingAndGlyphs" stroke="#000" stroke-width="0.12">RSI(14) 57.0855</text>
<path d="M1380,866L1419.51,833.49" stroke="#ff0000" stroke-width="3.2"/>
<path d="M1428,826.5L1423,837.74L1421.2,832.09L1416.01,829.24Z" fill="#ff0000" stroke="#ff0000" stroke-width="0.8" stroke-linejoin="round"/>
<g shape-rendering="crispEdges">
<rect x="1654" y="758" width="1" height="1" fill="#000"/>
<rect x="1654" y="929" width="1" height="1" fill="#000"/>
</g>
<text x="1657" y="767" font-size="10" fill="#000" textLength="15" lengthAdjust="spacingAndGlyphs" stroke="#000" stroke-width="0.12">100</text>
<text x="1657" y="796" font-size="10" fill="#000" textLength="10" lengthAdjust="spacingAndGlyphs" stroke="#000" stroke-width="0.12">80</text>
<text x="1657" y="847" font-size="10" fill="#000" textLength="10" lengthAdjust="spacingAndGlyphs" stroke="#000" stroke-width="0.12">50</text>
<text x="1657" y="908" font-size="10" fill="#000" textLength="10" lengthAdjust="spacingAndGlyphs" stroke="#000" stroke-width="0.12">15</text>
<text x="1657" y="927" font-size="10" fill="#000" textLength="5" lengthAdjust="spacingAndGlyphs" stroke="#000" stroke-width="0.12">0</text>
<g shape-rendering="crispEdges">
<rect x="58" y="931" width="1" height="3" fill="#000"/>
<rect x="122" y="931" width="1" height="3" fill="#000"/>
<rect x="186" y="931" width="1" height="3" fill="#000"/>
<rect x="250" y="931" width="1" height="3" fill="#000"/>
<rect x="314" y="931" width="1" height="3" fill="#000"/>
<rect x="378" y="931" width="1" height="3" fill="#000"/>
<rect x="442" y="931" width="1" height="3" fill="#000"/>
<rect x="506" y="931" width="1" height="3" fill="#000"/>
<rect x="570" y="931" width="1" height="3" fill="#000"/>
<rect x="634" y="931" width="1" height="3" fill="#000"/>
<rect x="698" y="931" width="1" height="3" fill="#000"/>
<rect x="762" y="931" width="1" height="3" fill="#000"/>
<rect x="826" y="931" width="1" height="3" fill="#000"/>
<rect x="890" y="931" width="1" height="3" fill="#000"/>
<rect x="954" y="931" width="1" height="3" fill="#000"/>
<rect x="1018" y="931" width="1" height="3" fill="#000"/>
<rect x="1082" y="931" width="1" height="3" fill="#000"/>
<rect x="1146" y="931" width="1" height="3" fill="#000"/>
<rect x="1210" y="931" width="1" height="3" fill="#000"/>
<rect x="1274" y="931" width="1" height="3" fill="#000"/>
<rect x="1338" y="931" width="1" height="3" fill="#000"/>
<rect x="1402" y="931" width="1" height="3" fill="#000"/>
</g>
<text x="-7" y="943" font-size="10" fill="#000" textLength="47.3" lengthAdjust="spacingAndGlyphs" stroke="#000" stroke-width="0.12">3 Feb 2022</text>
<text x="57" y="943" font-size="10" fill="#000" textLength="49.9" lengthAdjust="spacingAndGlyphs" stroke="#000" stroke-width="0.12">4 Feb 12:00</text>
<text x="121" y="943" font-size="10" fill="#000" textLength="49.9" lengthAdjust="spacingAndGlyphs" stroke="#000" stroke-width="0.12">7 Feb 16:00</text>
<text x="185" y="943" font-size="10" fill="#000" textLength="49.9" lengthAdjust="spacingAndGlyphs" stroke="#000" stroke-width="0.12">9 Feb 00:00</text>
<text x="249" y="943" font-size="10" fill="#000" textLength="55.1" lengthAdjust="spacingAndGlyphs" stroke="#000" stroke-width="0.12">10 Feb 08:00</text>
<text x="313" y="943" font-size="10" fill="#000" textLength="54.41" lengthAdjust="spacingAndGlyphs" stroke="#000" stroke-width="0.12">11 Feb 16:00</text>
<text x="377" y="943" font-size="10" fill="#000" textLength="55.1" lengthAdjust="spacingAndGlyphs" stroke="#000" stroke-width="0.12">14 Feb 20:00</text>
<text x="441" y="943" font-size="10" fill="#000" textLength="55.1" lengthAdjust="spacingAndGlyphs" stroke="#000" stroke-width="0.12">16 Feb 04:00</text>
<text x="505" y="943" font-size="10" fill="#000" textLength="55.1" lengthAdjust="spacingAndGlyphs" stroke="#000" stroke-width="0.12">17 Feb 12:00</text>
<text x="569" y="943" font-size="10" fill="#000" textLength="55.1" lengthAdjust="spacingAndGlyphs" stroke="#000" stroke-width="0.12">18 Feb 20:00</text>
<text x="633" y="943" font-size="10" fill="#000" textLength="55.1" lengthAdjust="spacingAndGlyphs" stroke="#000" stroke-width="0.12">22 Feb 00:00</text>
<text x="697" y="943" font-size="10" fill="#000" textLength="55.1" lengthAdjust="spacingAndGlyphs" stroke="#000" stroke-width="0.12">23 Feb 08:00</text>
<text x="761" y="943" font-size="10" fill="#000" textLength="55.1" lengthAdjust="spacingAndGlyphs" stroke="#000" stroke-width="0.12">24 Feb 16:00</text>
<text x="825" y="943" font-size="10" fill="#000" textLength="55.1" lengthAdjust="spacingAndGlyphs" stroke="#000" stroke-width="0.12">27 Feb 23:00</text>
<text x="889" y="943" font-size="10" fill="#000" textLength="49.89" lengthAdjust="spacingAndGlyphs" stroke="#000" stroke-width="0.12">1 Mar 04:00</text>
<text x="953" y="943" font-size="10" fill="#000" textLength="49.89" lengthAdjust="spacingAndGlyphs" stroke="#000" stroke-width="0.12">2 Mar 12:00</text>
<text x="1017" y="943" font-size="10" fill="#000" textLength="49.89" lengthAdjust="spacingAndGlyphs" stroke="#000" stroke-width="0.12">3 Mar 20:00</text>
<text x="1081" y="943" font-size="10" fill="#000" textLength="49.89" lengthAdjust="spacingAndGlyphs" stroke="#000" stroke-width="0.12">7 Mar 00:00</text>
<text x="1145" y="943" font-size="10" fill="#000" textLength="49.89" lengthAdjust="spacingAndGlyphs" stroke="#000" stroke-width="0.12">8 Mar 08:00</text>
<text x="1209" y="943" font-size="10" fill="#000" textLength="49.89" lengthAdjust="spacingAndGlyphs" stroke="#000" stroke-width="0.12">9 Mar 16:00</text>
<text x="1273" y="943" font-size="10" fill="#000" textLength="54.4" lengthAdjust="spacingAndGlyphs" stroke="#000" stroke-width="0.12">11 Mar 00:00</text>
<text x="1337" y="943" font-size="10" fill="#000" textLength="55.09" lengthAdjust="spacingAndGlyphs" stroke="#000" stroke-width="0.12">14 Mar 04:00</text>
<text x="1401" y="943" font-size="10" fill="#000" textLength="55.09" lengthAdjust="spacingAndGlyphs" stroke="#000" stroke-width="0.12">15 Mar 12:00</text>
</svg></body></html>
